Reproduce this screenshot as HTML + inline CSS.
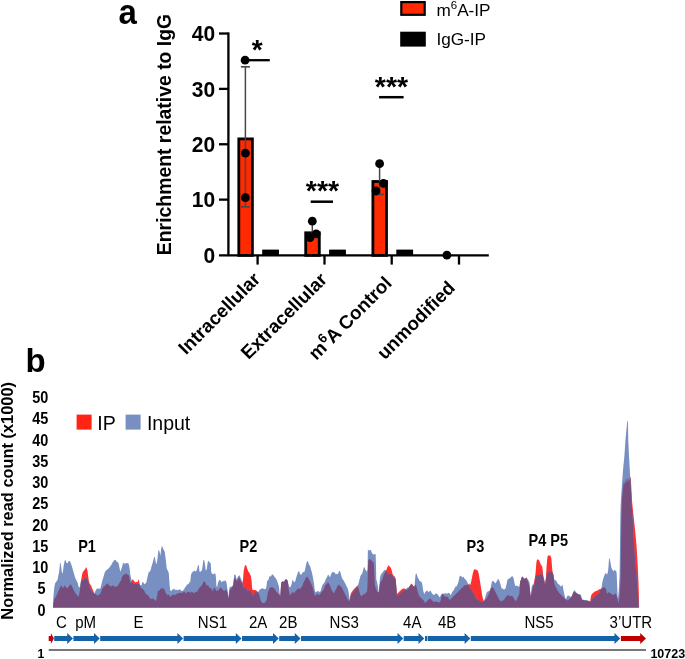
<!DOCTYPE html>
<html><head><meta charset="utf-8"><style>
html,body{margin:0;padding:0;background:#fff;}
body{width:685px;height:659px;overflow:hidden;}
svg{display:block;font-family:"Liberation Sans", sans-serif;will-change:transform;filter:blur(0.4px);}
</style></head><body>
<svg width="685" height="659" viewBox="0 0 685 659">
<text transform="translate(118.60,24.30) scale(1.0,1.04)" font-size="33" font-weight="bold">a</text>
<text transform="translate(171.0,253.8) rotate(-90)" font-size="19.4" font-weight="bold" x="-1.4">Enrichment relative to IgG</text>
<line x1="228.4" y1="32.42000000000001" x2="228.4" y2="256.1" stroke="#000" stroke-width="2.3"/>
<line x1="219" y1="255.4" x2="488.8" y2="255.4" stroke="#000" stroke-width="2.3"/>
<text transform="translate(215.2,262.70) scale(1,1.05)" font-size="21" font-weight="bold" text-anchor="end">0</text>
<line x1="219" y1="199.63" x2="228.4" y2="199.63" stroke="#000" stroke-width="2.3"/>
<text transform="translate(215.2,207.33) scale(1,1.05)" font-size="21" font-weight="bold" text-anchor="end">10</text>
<line x1="219" y1="144.26" x2="228.4" y2="144.26" stroke="#000" stroke-width="2.3"/>
<text transform="translate(215.2,151.96) scale(1,1.05)" font-size="21" font-weight="bold" text-anchor="end">20</text>
<line x1="219" y1="88.89" x2="228.4" y2="88.89" stroke="#000" stroke-width="2.3"/>
<text transform="translate(215.2,96.59) scale(1,1.05)" font-size="21" font-weight="bold" text-anchor="end">30</text>
<line x1="219" y1="33.52" x2="228.4" y2="33.52" stroke="#000" stroke-width="2.3"/>
<text transform="translate(215.2,41.22) scale(1,1.05)" font-size="21" font-weight="bold" text-anchor="end">40</text>
<line x1="257.6" y1="255.4" x2="257.6" y2="264.6" stroke="#000" stroke-width="2.3"/>
<line x1="324.5" y1="255.4" x2="324.5" y2="264.6" stroke="#000" stroke-width="2.3"/>
<line x1="391.7" y1="255.4" x2="391.7" y2="264.6" stroke="#000" stroke-width="2.3"/>
<line x1="459.0" y1="255.4" x2="459.0" y2="264.6" stroke="#000" stroke-width="2.3"/>
<rect x="238.80" y="138.90" width="13.60" height="116.50" fill="#ff2a00" stroke="#000" stroke-width="2.8"/>
<rect x="305.70" y="232.80" width="13.60" height="22.60" fill="#ff2a00" stroke="#000" stroke-width="2.8"/>
<rect x="372.90" y="181.50" width="13.60" height="73.90" fill="#ff2a00" stroke="#000" stroke-width="2.8"/>
<rect x="262.20" y="249.6" width="16.8" height="5.8" fill="#000"/>
<rect x="329.10" y="249.6" width="16.8" height="5.8" fill="#000"/>
<rect x="396.30" y="249.6" width="16.8" height="5.8" fill="#000"/>
<line x1="245.4" y1="66.8" x2="245.4" y2="206.8" stroke="#484848" stroke-width="1.5"/>
<line x1="240.9" y1="66.8" x2="249.9" y2="66.8" stroke="#484848" stroke-width="1.6"/>
<line x1="240.9" y1="206.8" x2="249.9" y2="206.8" stroke="#484848" stroke-width="1.6"/>
<line x1="312.3" y1="221" x2="312.3" y2="240" stroke="#484848" stroke-width="1.5"/>
<line x1="379.6" y1="164" x2="379.6" y2="194.4" stroke="#484848" stroke-width="1.5"/>
<line x1="375.5" y1="194.4" x2="384" y2="194.4" stroke="#484848" stroke-width="1.6"/>
<circle cx="245.1" cy="60.2" r="4.4" fill="#000"/>
<circle cx="245.4" cy="153.2" r="4.4" fill="#000"/>
<circle cx="245.4" cy="197.7" r="4.4" fill="#000"/>
<circle cx="312.3" cy="221.2" r="4.4" fill="#000"/>
<circle cx="316.2" cy="233.8" r="4.4" fill="#000"/>
<circle cx="310" cy="237.6" r="4.4" fill="#000"/>
<circle cx="379.6" cy="163.7" r="4.4" fill="#000"/>
<circle cx="383.5" cy="183.4" r="4.4" fill="#000"/>
<circle cx="376" cy="191" r="4.4" fill="#000"/>
<circle cx="446.9" cy="255.2" r="4.4" fill="#000"/>
<line x1="245" y1="60.2" x2="269.8" y2="60.2" stroke="#000" stroke-width="2.3"/>
<text x="251.8" y="59.0" font-size="28" font-weight="bold">*</text>
<line x1="310.7" y1="201.7" x2="333" y2="201.7" stroke="#000" stroke-width="2.5"/>
<text x="305.8" y="200.3" font-size="28.5" font-weight="bold">***</text>
<line x1="379.1" y1="97.2" x2="403.6" y2="97.2" stroke="#000" stroke-width="2.5"/>
<text x="374.8" y="95.5" font-size="28.5" font-weight="bold">***</text>
<rect x="401.3" y="2.1" width="23.400000000000002" height="12.7" fill="#ff2a00" stroke="#000" stroke-width="2.2"/>
<rect x="400.2" y="31.7" width="25.6" height="14.9" fill="#000"/>
<text x="436.4" y="15.8" font-size="17.2">m<tspan font-size="11.5" dy="-6.5">6</tspan><tspan dy="6.5">A-IP</tspan></text>
<text x="436.4" y="45.2" font-size="17.2">IgG-IP</text>
<text transform="translate(261.40,280.30) rotate(-45)" font-size="18.8" font-weight="bold" text-anchor="end">Intracellular</text>
<text transform="translate(328.30,280.60) rotate(-45)" font-size="18.8" font-weight="bold" text-anchor="end">Extracellular</text>
<text transform="translate(392.90,284.20) rotate(-45)" font-size="18.8" font-weight="bold" text-anchor="end">m<tspan font-size="13.2" dy="-7.2">6</tspan><tspan dy="7.2" dx="-0.4">A Control</tspan></text>
<text transform="translate(456.20,289.00) rotate(-45)" font-size="18.8" font-weight="bold" text-anchor="end">unmodified</text>
<text x="25.6" y="372.0" font-size="33" font-weight="bold">b</text>
<text transform="translate(13.0,618.6) rotate(-90)" font-size="16.4" font-weight="bold" x="-1.1">Normalized read count (x1000)</text>
<text transform="translate(48.30,403.10) scale(0.97,1.1)" font-size="14.9" font-weight="bold" text-anchor="end">50</text>
<text transform="translate(48.30,424.36) scale(0.97,1.1)" font-size="14.9" font-weight="bold" text-anchor="end">45</text>
<text transform="translate(48.30,445.62) scale(0.97,1.1)" font-size="14.9" font-weight="bold" text-anchor="end">40</text>
<text transform="translate(48.30,466.88) scale(0.97,1.1)" font-size="14.9" font-weight="bold" text-anchor="end">35</text>
<text transform="translate(48.30,488.14) scale(0.97,1.1)" font-size="14.9" font-weight="bold" text-anchor="end">30</text>
<text transform="translate(48.30,509.40) scale(0.97,1.1)" font-size="14.9" font-weight="bold" text-anchor="end">25</text>
<text transform="translate(48.30,530.66) scale(0.97,1.1)" font-size="14.9" font-weight="bold" text-anchor="end">20</text>
<text transform="translate(48.30,551.92) scale(0.97,1.1)" font-size="14.9" font-weight="bold" text-anchor="end">15</text>
<text transform="translate(48.30,573.18) scale(0.97,1.1)" font-size="14.9" font-weight="bold" text-anchor="end">10</text>
<text transform="translate(41.50,594.44) scale(0.97,1.1)" font-size="14.9" font-weight="bold" text-anchor="middle">5</text>
<text transform="translate(41.50,615.70) scale(0.97,1.1)" font-size="14.9" font-weight="bold" text-anchor="middle">0</text>
<polygon points="52.90,607.40 52.90,607.40 53.25,605.29 53.60,602.84 53.95,600.97 54.30,599.57 54.65,598.33 55.00,597.86 55.35,597.39 55.70,596.93 56.05,596.32 56.40,595.62 56.75,594.92 57.10,594.22 57.45,593.29 57.80,592.35 58.15,591.42 58.50,590.59 58.85,589.89 59.20,589.19 59.55,588.49 59.90,587.79 60.25,587.09 60.60,586.39 60.95,585.69 61.30,585.11 61.65,585.81 62.00,586.51 62.35,587.21 62.70,587.91 63.05,588.17 63.40,587.47 63.75,586.77 64.10,586.07 64.45,585.37 64.80,585.43 65.15,586.13 65.50,586.78 65.85,587.13 66.20,587.48 66.55,587.83 66.90,588.18 67.25,588.25 67.60,587.90 67.95,587.55 68.30,587.08 68.65,586.62 69.00,586.15 69.35,585.68 69.70,585.22 70.05,584.75 70.40,584.28 70.75,584.51 71.10,584.86 71.45,585.38 71.80,586.08 72.15,586.78 72.50,587.48 72.85,588.18 73.20,588.88 73.55,589.58 73.90,590.28 74.25,590.98 74.60,591.68 74.95,592.38 75.30,593.08 75.65,593.59 76.00,593.94 76.35,594.29 76.70,594.64 77.05,594.99 77.40,595.61 77.75,596.31 78.10,596.60 78.45,596.25 78.80,595.89 79.15,594.14 79.50,592.39 79.85,590.42 80.20,588.32 80.55,585.98 80.90,582.83 81.25,579.68 81.60,577.42 81.95,575.32 82.30,573.71 82.65,572.66 83.00,571.67 83.35,571.32 83.70,570.97 84.05,570.62 84.40,570.15 84.75,569.57 85.10,568.98 85.45,568.40 85.80,567.87 86.15,567.34 86.50,567.58 86.85,568.45 87.20,569.52 87.55,571.62 87.90,573.72 88.25,576.36 88.60,579.16 88.95,581.28 89.30,582.33 89.65,583.38 90.00,583.91 90.35,584.43 90.70,584.96 91.05,585.48 91.40,586.13 91.75,587.18 92.10,588.23 92.45,588.98 92.80,589.68 93.15,590.54 93.50,591.59 93.85,592.60 94.20,593.13 94.55,593.65 94.90,593.94 95.25,594.11 95.60,594.30 95.95,594.54 96.30,594.77 96.65,595.00 97.00,595.15 97.35,595.27 97.70,595.39 98.05,595.45 98.40,595.23 98.75,595.01 99.10,594.79 99.45,594.58 99.80,594.36 100.15,593.93 100.50,593.23 100.85,592.52 101.20,591.47 101.55,590.42 101.90,589.60 102.25,588.90 102.60,588.26 102.95,587.79 103.30,587.33 103.65,586.86 104.00,586.56 104.35,586.32 104.70,586.09 105.05,585.83 105.40,585.36 105.75,584.90 106.10,584.43 106.45,584.09 106.80,583.86 107.15,583.62 107.50,583.39 107.85,583.83 108.20,584.30 108.55,584.76 108.90,585.14 109.25,585.37 109.60,585.61 109.95,585.84 110.30,586.07 110.65,586.31 111.00,586.54 111.35,586.61 111.70,586.14 112.05,585.68 112.40,585.21 112.75,585.20 113.10,585.44 113.45,585.67 113.80,585.90 114.15,586.14 114.50,586.37 114.85,586.60 115.20,586.72 115.55,586.72 115.90,586.72 116.25,586.72 116.60,586.50 116.95,586.27 117.30,586.04 117.65,585.72 118.00,585.26 118.35,584.79 118.70,584.32 119.05,583.68 119.40,582.98 119.75,582.28 120.10,581.62 120.45,581.16 120.80,580.69 121.15,580.22 121.50,579.18 121.85,577.78 122.20,576.60 122.55,576.13 122.90,575.66 123.25,575.20 123.60,574.88 123.95,574.65 124.30,574.41 124.65,574.18 125.00,573.95 125.35,573.71 125.70,573.48 126.05,573.48 126.40,573.71 126.75,573.95 127.10,574.18 127.45,574.41 127.80,574.65 128.15,574.88 128.50,575.15 128.85,575.50 129.20,575.85 129.55,579.21 129.90,581.11 130.25,582.51 130.60,583.12 130.95,582.42 131.30,581.72 131.65,581.02 132.00,580.32 132.35,579.83 132.70,579.48 133.05,579.36 133.40,580.06 133.75,580.76 134.10,581.17 134.45,581.52 134.80,581.87 135.15,582.22 135.50,582.52 135.85,582.17 136.20,581.82 136.55,581.95 136.90,582.30 137.25,582.34 137.60,581.64 137.95,580.94 138.30,580.08 138.65,579.22 139.00,580.72 139.35,582.30 139.70,584.05 140.05,585.80 140.40,586.72 140.75,587.59 141.10,588.04 141.45,588.15 141.80,588.27 142.15,588.39 142.50,588.74 142.85,589.09 143.20,589.44 143.55,589.79 143.90,590.21 144.25,590.91 144.60,591.61 144.95,592.31 145.30,593.01 145.65,593.55 146.00,593.90 146.35,594.25 146.70,594.60 147.05,594.95 147.40,595.07 147.75,595.07 148.10,595.23 148.45,595.79 148.80,596.35 149.15,596.90 149.50,597.46 149.85,598.02 150.20,598.55 150.55,599.08 150.90,599.60 151.25,599.34 151.60,598.81 151.95,598.29 152.30,598.42 152.65,598.59 153.00,598.77 153.35,598.94 153.70,599.12 154.05,599.35 154.40,599.70 154.75,600.05 155.10,600.40 155.45,600.75 155.80,601.10 156.15,600.28 156.50,598.88 156.85,597.48 157.20,595.49 157.55,593.39 157.90,591.34 158.25,591.11 158.60,590.88 158.95,590.64 159.30,590.41 159.65,589.99 160.00,589.52 160.35,589.06 160.70,588.59 161.05,588.39 161.40,588.39 161.75,588.39 162.10,588.39 162.45,588.39 162.80,588.39 163.15,588.39 163.50,588.39 163.85,588.48 164.20,589.18 164.55,589.88 164.90,590.69 165.25,591.74 165.60,592.79 165.95,593.49 166.30,593.84 166.65,594.19 167.00,594.54 167.35,594.89 167.70,595.24 168.05,595.00 168.40,594.65 168.75,594.33 169.10,595.03 169.45,595.73 169.80,596.36 170.15,596.71 170.50,597.06 170.85,596.99 171.20,596.29 171.55,595.59 171.90,595.16 172.25,594.93 172.60,594.69 172.95,594.46 173.30,594.39 173.65,594.63 174.00,594.86 174.35,595.09 174.70,595.27 175.05,595.03 175.40,594.80 175.75,594.57 176.10,594.33 176.45,594.10 176.80,593.87 177.15,593.63 177.50,593.40 177.85,593.32 178.20,593.32 178.55,593.32 178.90,593.32 179.25,593.22 179.60,592.99 179.95,592.75 180.30,592.52 180.65,592.42 181.00,592.77 181.35,593.12 181.70,593.23 182.05,593.00 182.40,592.76 182.75,592.53 183.10,592.27 183.45,591.92 183.80,591.57 184.15,591.48 184.50,591.83 184.85,592.18 185.20,592.53 185.55,592.88 185.90,593.23 186.25,593.07 186.60,592.72 186.95,592.37 187.30,592.02 187.65,591.67 188.00,591.38 188.35,591.73 188.70,592.08 189.05,592.24 189.40,591.89 189.75,591.54 190.10,594.01 190.45,592.96 190.80,591.91 191.15,591.51 191.50,591.86 191.85,592.21 192.20,592.34 192.55,592.34 192.90,592.34 193.25,592.63 193.60,592.98 193.95,593.32 194.30,592.97 194.65,592.62 195.00,592.27 195.35,591.92 195.70,591.57 196.05,591.48 196.40,591.83 196.75,592.18 197.10,591.94 197.45,591.24 197.80,590.54 198.15,589.84 198.50,589.14 198.85,588.44 199.20,588.07 199.55,587.72 199.90,587.37 200.25,587.02 200.60,586.67 200.95,586.32 201.30,585.97 201.65,585.62 202.00,585.10 202.35,584.40 202.70,583.70 203.05,583.00 203.40,582.30 203.75,581.60 204.10,581.49 204.45,581.49 204.80,581.50 205.15,582.20 205.50,582.90 205.85,583.67 206.20,584.72 206.55,585.77 206.90,586.15 207.25,585.45 207.60,584.75 207.95,584.84 208.30,585.54 208.65,586.24 209.00,586.94 209.35,587.64 209.70,588.34 210.05,588.07 210.40,587.72 210.75,587.49 211.10,588.19 211.45,588.89 211.80,589.59 212.15,590.29 212.50,590.99 212.85,590.85 213.20,589.80 213.55,588.75 213.90,588.16 214.25,587.81 214.60,587.46 214.95,588.00 215.30,588.70 215.65,589.40 216.00,590.10 216.35,590.80 216.70,591.28 217.05,590.93 217.40,590.58 217.75,590.36 218.10,590.36 218.45,590.36 218.80,589.96 219.15,589.26 219.50,588.56 219.85,588.13 220.20,587.78 220.55,587.43 220.90,587.73 221.25,588.08 221.60,588.43 221.95,588.78 222.30,589.13 222.65,589.48 223.00,589.83 223.35,590.18 223.70,590.53 224.05,590.88 224.40,591.23 224.75,590.73 225.10,589.99 225.45,589.76 225.80,589.53 226.15,589.29 226.50,589.88 226.85,590.82 227.20,591.75 227.55,592.93 227.90,595.73 228.25,598.53 228.60,597.41 228.95,594.96 229.30,592.89 229.65,591.49 230.00,590.09 230.35,589.60 230.70,589.14 231.05,588.67 231.40,588.20 231.75,587.74 232.10,587.27 232.45,586.80 232.80,586.14 233.15,585.44 233.50,583.68 233.85,580.53 234.20,577.57 234.55,578.27 234.90,578.97 235.25,578.97 235.60,578.62 235.95,578.77 236.30,580.17 236.65,581.57 237.00,581.08 237.35,580.38 237.70,579.56 238.05,578.63 238.40,577.70 238.75,576.76 239.10,577.36 239.45,578.06 239.80,578.76 240.15,579.46 240.50,580.16 240.85,580.86 241.20,581.56 241.55,582.26 241.90,582.96 242.25,582.83 242.60,581.43 242.95,580.00 243.30,575.80 243.65,571.60 244.00,569.15 244.35,567.75 244.70,566.35 245.05,565.02 245.40,565.14 245.75,565.26 246.10,565.37 246.45,566.01 246.80,567.23 247.15,568.44 247.50,569.37 247.85,570.30 248.20,571.24 248.55,571.87 248.90,572.22 249.25,572.62 249.60,573.32 249.95,574.02 250.30,574.72 250.65,575.42 251.00,576.73 251.35,579.18 251.70,581.63 252.05,587.81 252.40,589.40 252.75,589.64 253.10,589.87 253.45,590.06 253.80,590.06 254.15,590.06 254.50,590.06 254.85,590.06 255.20,590.11 255.55,590.23 255.90,590.34 256.25,590.46 256.60,590.77 256.95,591.12 257.30,591.47 257.65,591.84 258.00,592.24 258.35,592.65 258.70,593.17 259.05,594.30 259.40,595.42 259.75,596.55 260.10,597.93 260.45,599.35 260.80,600.78 261.15,601.63 261.50,601.90 261.85,602.18 262.20,602.45 262.55,602.73 262.90,603.00 263.25,603.00 263.60,603.00 263.95,603.00 264.30,603.00 264.65,603.00 265.00,602.59 265.35,602.06 265.70,601.52 266.05,600.99 266.40,600.46 266.75,598.78 267.10,596.72 267.45,594.67 267.80,592.81 268.15,591.86 268.50,590.91 268.85,589.96 269.20,589.01 269.55,588.18 269.90,587.96 270.25,587.73 270.60,587.50 270.95,587.27 271.30,587.04 271.65,587.05 272.00,587.17 272.35,587.28 272.70,587.40 273.05,587.52 273.40,587.79 273.75,588.14 274.10,588.48 274.45,588.83 274.80,589.18 275.15,589.68 275.50,590.38 275.85,591.08 276.20,591.56 276.55,591.91 276.90,592.26 277.25,592.61 277.60,592.96 277.95,593.31 278.30,593.66 278.65,594.01 279.00,594.38 279.35,594.82 279.70,595.25 280.05,595.75 280.40,596.25 280.75,589.76 281.10,582.76 281.45,582.22 281.80,581.95 282.15,581.68 282.50,581.49 282.85,581.49 283.20,581.49 283.55,581.49 283.90,581.46 284.25,581.11 284.60,580.76 284.95,580.37 285.30,579.85 285.65,579.32 286.00,579.10 286.35,579.27 286.70,579.45 287.05,579.95 287.40,580.65 287.75,581.35 288.10,583.73 288.45,586.80 288.80,590.30 289.15,592.08 289.50,593.83 289.85,595.24 290.20,594.89 290.55,594.54 290.90,594.19 291.25,593.84 291.60,593.49 291.95,592.86 292.30,591.99 292.65,591.49 293.00,591.99 293.35,592.44 293.70,592.79 294.05,593.14 294.40,592.99 294.75,592.29 295.10,591.59 295.45,591.12 295.80,590.77 296.15,590.42 296.50,590.07 296.85,589.72 297.20,589.37 297.55,589.02 297.90,588.67 298.25,588.39 298.60,588.39 298.95,588.39 299.30,588.53 299.65,588.88 300.00,589.23 300.35,588.97 300.70,588.27 301.05,587.57 301.40,587.14 301.75,586.79 302.10,586.44 302.45,585.43 302.80,584.38 303.15,583.37 303.50,582.67 303.85,581.97 304.20,581.27 304.55,580.57 304.90,579.87 305.25,579.17 305.60,578.47 305.95,577.77 306.30,577.31 306.65,576.96 307.00,576.61 307.35,576.86 307.70,577.21 308.05,577.57 308.40,578.27 308.75,578.97 309.10,579.67 309.45,580.37 309.80,581.07 310.15,581.77 310.50,582.47 310.85,583.17 311.20,583.87 311.55,584.57 311.90,585.27 312.25,586.24 312.60,587.29 312.95,588.34 313.30,589.72 313.65,591.12 314.00,592.52 314.35,593.92 314.70,595.32 315.05,596.17 315.40,595.82 315.75,595.47 316.10,594.95 316.45,594.25 316.80,593.55 317.15,593.56 317.50,593.91 317.85,594.26 318.20,594.61 318.55,594.96 318.90,595.28 319.25,594.93 319.60,594.58 319.95,594.23 320.30,593.88 320.65,593.53 321.00,593.04 321.35,592.34 321.70,591.64 322.05,591.15 322.40,590.80 322.75,590.45 323.10,590.10 323.45,589.75 323.80,589.40 324.15,588.27 324.50,587.10 324.85,585.93 325.20,585.23 325.55,584.88 325.90,584.53 326.25,584.18 326.60,583.83 326.95,583.48 327.30,583.13 327.65,582.78 328.00,582.52 328.35,582.87 328.70,583.22 329.05,583.67 329.40,584.37 329.75,585.07 330.10,585.94 330.45,586.99 330.80,588.04 331.15,588.86 331.50,589.56 331.85,590.26 332.20,590.96 332.55,591.66 332.90,592.35 333.25,592.70 333.60,593.05 333.95,593.17 334.30,592.47 334.65,591.77 335.00,591.07 335.35,590.37 335.70,589.67 336.05,588.97 336.40,588.27 336.75,587.57 337.10,586.87 337.45,586.17 337.80,585.47 338.15,585.10 338.50,584.75 338.85,584.49 339.20,584.84 339.55,585.19 339.90,585.54 340.25,585.89 340.60,586.24 340.95,586.59 341.30,586.94 341.65,587.29 342.00,587.88 342.35,588.58 342.70,589.28 343.05,589.98 343.40,590.68 343.75,591.38 344.10,592.08 344.45,592.78 344.80,593.48 345.15,594.18 345.50,594.88 345.85,595.58 346.20,596.28 346.55,596.98 346.90,597.68 347.25,598.38 347.60,599.08 347.95,599.78 348.30,600.48 348.65,601.18 349.00,600.88 349.35,600.53 349.70,599.93 350.05,597.66 350.40,595.38 350.75,593.65 351.10,593.13 351.45,592.60 351.80,592.08 352.15,591.55 352.50,591.03 352.85,590.50 353.20,589.98 353.55,589.45 353.90,589.08 354.25,588.73 354.60,588.38 354.95,588.03 355.30,587.68 355.65,587.33 356.00,586.98 356.35,586.63 356.70,586.21 357.05,585.68 357.40,585.16 357.75,585.66 358.10,586.89 358.45,588.11 358.80,589.47 359.15,590.87 359.50,592.27 359.85,593.34 360.20,594.39 360.55,595.34 360.90,595.69 361.25,596.04 361.60,596.17 361.95,595.82 362.30,595.47 362.65,595.12 363.00,594.77 363.35,594.42 363.70,594.31 364.05,594.31 364.40,594.31 364.75,594.01 365.10,593.66 365.45,593.31 365.80,592.96 366.15,592.61 366.50,592.18 366.85,591.48 367.20,590.78 367.55,584.21 367.90,569.21 368.25,560.59 368.60,560.15 368.95,559.73 369.30,559.38 369.65,559.03 370.00,558.93 370.35,559.28 370.70,559.63 371.05,559.98 371.40,560.33 371.75,560.68 372.10,561.03 372.45,561.38 372.80,561.73 373.15,562.08 373.50,562.43 373.85,563.42 374.20,570.42 374.55,577.42 374.90,584.42 375.25,586.92 375.60,587.62 375.95,588.32 376.30,589.33 376.65,590.38 377.00,591.38 377.35,591.73 377.70,592.08 378.05,592.34 378.40,592.34 378.75,592.34 379.10,590.94 379.45,587.79 379.80,584.64 380.15,583.02 380.50,582.32 380.85,581.62 381.20,581.21 381.55,580.86 381.90,580.51 382.25,579.46 382.60,578.41 382.95,577.36 383.30,576.31 383.65,575.26 384.00,574.34 384.35,573.64 384.70,572.94 385.05,572.24 385.40,571.54 385.75,570.84 386.10,570.14 386.45,569.44 386.80,568.74 387.15,567.88 387.50,567.00 387.85,566.17 388.20,565.82 388.55,565.47 388.90,565.36 389.25,565.88 389.60,566.41 389.95,566.85 390.30,567.20 390.65,567.55 391.00,568.35 391.35,569.40 391.70,570.45 392.05,571.78 392.40,573.18 392.75,574.58 393.10,574.93 393.45,575.28 393.80,575.63 394.15,575.98 394.50,576.33 394.85,576.81 395.20,577.51 395.55,578.21 395.90,581.06 396.25,585.73 396.60,590.40 396.95,594.24 397.30,593.80 397.65,593.36 398.00,593.01 398.35,592.66 398.70,592.31 399.05,591.96 399.40,591.61 399.75,591.26 400.10,590.91 400.45,590.56 400.80,590.21 401.15,589.86 401.50,589.51 401.85,589.27 402.20,589.09 402.55,588.92 402.90,588.74 403.25,588.57 403.60,588.39 403.95,588.39 404.30,588.39 404.65,588.46 405.00,588.81 405.35,589.16 405.70,589.51 406.05,589.86 406.40,590.21 406.75,590.17 407.10,589.82 407.45,589.47 407.80,589.12 408.15,588.77 408.50,588.42 408.85,587.75 409.20,587.05 409.55,586.35 409.90,585.65 410.25,584.95 410.60,584.35 410.95,584.00 411.30,583.65 411.65,583.62 412.00,583.97 412.35,584.32 412.70,584.90 413.05,585.60 413.40,586.30 413.75,586.42 414.10,586.42 414.45,586.42 414.80,585.72 415.15,585.02 415.50,584.58 415.85,585.28 416.20,585.98 416.55,586.94 416.90,588.34 417.25,589.74 417.60,591.14 417.95,592.54 418.30,593.94 418.65,594.82 419.00,595.52 419.35,596.22 419.70,596.60 420.05,596.95 420.40,597.30 420.75,597.65 421.10,598.00 421.45,598.35 421.80,598.70 422.15,599.05 422.50,599.40 422.85,599.75 423.20,600.10 423.55,600.45 423.90,600.80 424.25,601.15 424.60,602.04 424.95,603.04 425.30,602.89 425.65,602.54 426.00,602.19 426.35,601.84 426.70,601.49 427.05,601.14 427.40,600.79 427.75,600.44 428.10,600.09 428.45,599.74 428.80,599.39 429.15,599.04 429.50,598.69 429.85,598.34 430.20,598.52 430.55,598.87 430.90,599.22 431.25,599.57 431.60,599.92 431.95,600.27 432.30,600.62 432.65,600.97 433.00,601.32 433.35,601.67 433.70,602.02 434.05,602.11 434.40,601.94 434.75,601.76 435.10,601.59 435.45,601.41 435.80,601.24 436.15,601.51 436.50,601.86 436.85,602.19 437.20,602.02 437.55,601.84 437.90,601.75 438.25,601.92 438.60,602.10 438.95,602.27 439.30,602.45 439.65,602.62 440.00,602.17 440.35,601.30 440.70,600.42 441.05,598.60 441.40,596.50 441.75,594.40 442.10,594.31 442.45,594.31 442.80,594.36 443.15,594.71 443.50,595.06 443.85,595.41 444.20,595.76 444.55,596.11 444.90,596.46 445.25,596.81 445.60,597.16 445.95,597.03 446.30,596.68 446.65,596.33 447.00,596.59 447.35,596.94 447.70,597.29 448.05,597.64 448.40,597.99 448.75,598.42 449.10,599.12 449.45,599.82 449.80,600.08 450.15,599.73 450.50,599.38 450.85,599.03 451.20,598.68 451.55,598.33 451.90,597.98 452.25,597.63 452.60,597.28 452.95,596.93 453.30,596.58 453.65,596.23 454.00,595.88 454.35,595.53 454.70,595.18 455.05,594.83 455.40,594.48 455.75,594.13 456.10,593.78 456.45,593.43 456.80,593.08 457.15,592.73 457.50,592.38 457.85,592.03 458.20,591.68 458.55,591.33 458.90,590.98 459.25,590.63 459.60,590.28 459.95,589.93 460.30,589.58 460.65,589.23 461.00,588.88 461.35,588.53 461.70,588.18 462.05,587.83 462.40,587.48 462.75,587.13 463.10,586.78 463.45,586.43 463.80,586.08 464.15,585.73 464.50,585.43 464.85,585.43 465.20,585.43 465.55,585.32 465.90,584.97 466.25,584.62 466.60,584.63 466.95,584.98 467.30,585.33 467.65,585.19 468.00,584.84 468.35,584.49 468.70,584.14 469.05,583.79 469.40,583.53 469.75,584.64 470.10,585.13 470.45,584.08 470.80,583.03 471.15,581.66 471.50,579.91 471.85,578.16 472.20,576.41 472.55,574.66 472.90,572.91 473.25,571.74 473.60,570.69 473.95,569.65 474.30,569.48 474.65,569.30 475.00,569.20 475.35,569.37 475.70,569.55 476.05,569.72 476.40,569.90 476.75,570.07 477.10,570.25 477.45,570.42 477.80,570.60 478.15,571.68 478.50,573.08 478.85,574.48 479.20,576.53 479.55,578.63 479.90,580.73 480.25,582.83 480.60,584.93 480.95,587.13 481.30,589.58 481.65,592.03 482.00,594.15 482.35,595.90 482.70,597.65 483.05,598.94 483.40,599.99 483.75,601.04 484.10,600.92 484.45,600.57 484.80,600.22 485.15,599.87 485.50,599.52 485.85,599.17 486.20,598.82 486.55,598.47 486.90,597.99 487.25,597.29 487.60,596.59 487.95,595.89 488.30,595.19 488.65,594.49 489.00,593.52 489.35,592.47 489.70,591.42 490.05,590.70 490.40,590.00 490.75,589.30 491.10,588.60 491.45,587.90 491.80,587.41 492.15,587.41 492.50,587.41 492.85,587.57 493.20,587.92 493.55,588.27 493.90,588.86 494.25,589.56 494.60,590.26 494.95,590.96 495.30,591.66 495.65,592.36 496.00,593.06 496.35,593.76 496.70,594.46 497.05,595.16 497.40,595.86 497.75,596.56 498.10,597.26 498.45,597.96 498.80,598.66 499.15,599.36 499.50,600.06 499.85,600.49 500.20,600.84 500.55,601.19 500.90,601.21 501.25,601.21 501.60,601.19 501.95,601.02 502.30,600.84 502.65,600.67 503.00,600.49 503.35,600.32 503.70,600.06 504.05,599.71 504.40,599.36 504.75,598.77 505.10,598.07 505.45,597.37 505.80,596.97 506.15,596.62 506.50,596.27 506.85,595.92 507.20,595.57 507.55,595.30 507.90,595.30 508.25,595.30 508.60,595.37 508.95,595.54 509.30,595.72 509.65,595.89 510.00,596.07 510.35,596.24 510.70,596.15 511.05,595.97 511.40,595.80 511.75,595.95 512.10,596.13 512.45,596.33 512.80,596.68 513.15,597.03 513.50,597.48 513.85,598.18 514.20,598.88 514.55,599.58 514.90,600.28 515.25,600.98 515.60,600.98 515.95,600.63 516.30,600.28 516.65,599.63 517.00,598.93 517.35,598.23 517.70,597.53 518.05,596.83 518.40,596.13 518.75,595.43 519.10,594.73 519.45,591.90 519.80,585.90 520.15,582.05 520.50,581.09 520.85,580.13 521.20,579.16 521.55,578.20 521.90,577.24 522.25,576.75 522.60,577.10 522.95,577.45 523.30,577.80 523.65,578.15 524.00,578.50 524.35,578.72 524.70,578.63 525.05,578.55 525.40,578.46 525.75,578.37 526.10,578.28 526.45,578.38 526.80,579.08 527.15,579.78 527.50,580.48 527.85,581.18 528.20,582.20 528.55,583.36 528.90,584.53 529.25,585.70 529.60,587.17 529.95,590.67 530.30,594.17 530.65,597.16 531.00,595.53 531.35,593.90 531.70,592.26 532.05,590.63 532.40,589.13 532.75,587.73 533.10,586.33 533.45,584.93 533.80,583.53 534.15,581.66 534.50,579.79 534.85,577.93 535.20,576.06 535.55,572.99 535.90,568.44 536.25,563.89 536.60,560.94 536.95,560.24 537.30,559.54 537.65,559.20 538.00,559.43 538.35,559.66 538.70,559.90 539.05,560.13 539.40,560.95 539.75,561.88 540.10,562.81 540.45,563.75 540.80,564.55 541.15,565.02 541.50,565.48 541.85,565.95 542.20,566.42 542.55,569.11 542.90,572.61 543.25,575.48 543.60,576.94 543.95,578.40 544.30,579.86 544.65,581.28 545.00,582.68 545.35,584.08 545.70,580.81 546.05,574.86 546.40,568.91 546.75,564.17 547.10,560.23 547.45,556.85 547.80,556.10 548.15,555.39 548.50,555.39 548.85,555.39 549.20,555.39 549.55,555.39 549.90,555.39 550.25,555.39 550.60,556.26 550.95,557.13 551.30,558.01 551.65,562.05 552.00,566.25 552.35,570.45 552.70,572.07 553.05,573.47 553.40,574.87 553.75,577.83 554.10,580.98 554.45,584.13 554.80,585.18 555.15,585.88 555.50,586.58 555.85,587.28 556.20,587.98 556.55,588.68 556.90,589.38 557.25,590.04 557.60,590.56 557.95,591.09 558.30,591.61 558.65,592.14 559.00,592.66 559.35,593.15 559.70,593.50 560.05,593.85 560.40,594.20 560.75,594.55 561.10,594.90 561.45,595.25 561.80,595.60 562.15,595.95 562.50,596.30 562.85,596.65 563.20,597.00 563.55,597.35 563.90,597.70 564.25,598.05 564.60,598.40 564.95,598.75 565.30,599.10 565.65,599.45 566.00,599.62 566.35,599.80 566.70,599.97 567.05,600.15 567.40,600.32 567.75,600.50 568.10,600.20 568.45,599.88 568.80,599.55 569.15,599.23 569.50,598.90 569.85,598.58 570.20,598.25 570.55,597.93 570.90,597.61 571.25,597.28 571.60,596.58 571.95,595.65 572.30,594.72 572.65,593.78 573.00,592.85 573.35,591.92 573.70,591.40 574.05,591.63 574.40,591.86 574.75,592.10 575.10,592.33 575.45,592.56 575.80,592.80 576.15,593.03 576.50,593.26 576.85,593.50 577.20,593.73 577.55,593.96 577.90,594.20 578.25,594.37 578.60,594.54 578.95,594.70 579.30,594.87 579.65,595.04 580.00,595.20 580.35,595.99 580.70,596.78 581.05,597.56 581.40,598.35 581.75,599.14 582.10,599.93 582.45,600.04 582.80,600.11 583.15,600.18 583.50,600.25 583.85,600.32 584.20,600.39 584.55,600.46 584.90,600.53 585.25,600.60 585.60,600.67 585.95,600.74 586.30,600.81 586.65,600.88 587.00,600.95 587.35,601.02 587.70,601.09 588.05,601.16 588.40,601.23 588.75,601.30 589.10,601.37 589.45,601.44 589.80,601.51 590.15,601.18 590.50,599.08 590.85,596.98 591.20,595.13 591.55,594.66 591.90,594.20 592.25,593.73 592.60,593.26 592.95,592.92 593.30,592.66 593.65,592.40 594.00,592.13 594.35,591.87 594.70,591.61 595.05,591.41 595.40,591.27 595.75,591.13 596.10,590.99 596.45,590.85 596.80,590.71 597.15,590.57 597.50,590.43 597.85,590.20 598.20,589.97 598.55,589.74 598.90,589.50 599.25,589.33 599.60,589.24 599.95,589.15 600.30,589.07 600.65,588.98 601.00,588.89 601.35,588.75 601.70,588.52 602.05,588.29 602.40,588.05 602.75,587.82 603.10,587.68 603.45,587.56 603.80,587.45 604.15,587.33 604.50,587.32 604.85,587.67 605.20,588.02 605.55,588.37 605.90,588.72 606.25,590.04 606.60,591.79 606.95,593.54 607.30,593.83 607.65,593.37 608.00,592.90 608.35,592.43 608.70,592.04 609.05,592.28 609.40,592.51 609.75,592.74 610.10,592.98 610.45,593.21 610.80,593.44 611.15,593.68 611.50,593.91 611.85,594.14 612.20,594.32 612.55,594.49 612.90,594.67 613.25,594.84 613.60,595.02 613.95,595.19 614.30,594.76 614.65,594.30 615.00,593.83 615.35,593.36 615.70,593.35 616.05,594.05 616.40,594.75 616.75,595.69 617.10,597.06 617.45,598.42 617.80,599.91 618.15,601.70 618.50,603.49 618.85,601.86 619.20,598.86 619.55,595.86 619.90,592.86 620.25,584.92 620.60,575.00 620.95,551.37 621.30,524.75 621.65,507.62 622.00,499.67 622.35,495.58 622.70,491.50 623.05,487.65 623.40,485.20 623.75,482.75 624.10,481.40 624.45,482.80 624.80,484.20 625.15,483.95 625.50,481.50 625.85,479.05 626.20,479.00 626.55,480.75 626.90,482.50 627.25,481.50 627.60,479.40 627.95,477.30 628.30,478.50 628.65,480.25 629.00,482.00 629.35,480.60 629.70,479.20 630.05,477.92 630.40,477.35 630.75,476.78 631.10,482.88 631.45,489.81 631.80,496.38 632.15,502.47 632.50,505.75 632.85,509.03 633.20,512.31 633.55,515.59 633.90,518.87 634.25,522.13 634.60,525.40 634.95,528.67 635.30,532.13 635.65,536.10 636.00,540.07 636.35,544.03 636.70,548.00 637.05,554.05 637.40,560.09 637.75,566.14 638.10,573.50 638.45,581.50 638.80,592.00 639.15,607.40 639.50,607.40 639.50,607.40" fill="#ff3030"/>
<polygon points="52.90,607.40 52.90,607.40 53.25,599.05 53.60,594.13 53.95,590.63 54.30,587.63 54.65,585.53 55.00,583.43 55.35,582.93 55.70,582.46 56.05,581.99 56.40,581.53 56.75,581.06 57.10,580.59 57.45,580.13 57.80,578.60 58.15,576.85 58.50,575.10 58.85,573.35 59.20,571.51 59.55,568.01 59.90,564.51 60.25,563.06 60.60,562.62 60.95,564.79 61.30,567.77 61.65,570.57 62.00,573.37 62.35,573.46 62.70,572.41 63.05,570.80 63.40,568.00 63.75,565.20 64.10,563.38 64.45,561.63 64.80,560.55 65.15,560.03 65.50,559.79 65.85,561.02 66.20,562.24 66.55,562.69 66.90,562.93 67.25,563.16 67.60,563.21 67.95,562.51 68.30,561.81 68.65,561.39 69.00,561.04 69.35,560.92 69.70,561.09 70.05,561.30 70.40,562.18 70.75,563.05 71.10,564.04 71.45,565.09 71.80,566.14 72.15,567.19 72.50,568.24 72.85,569.61 73.20,571.01 73.55,572.23 73.90,573.28 74.25,574.37 74.60,575.77 74.95,577.17 75.30,578.05 75.65,578.75 76.00,579.45 76.35,580.15 76.70,580.85 77.05,581.55 77.40,582.25 77.75,583.36 78.10,584.76 78.45,586.02 78.80,586.72 79.15,587.42 79.50,587.27 79.85,586.92 80.20,585.67 80.55,583.22 80.90,580.86 81.25,580.51 81.60,580.16 81.95,579.93 82.30,579.75 82.65,579.67 83.00,579.85 83.35,580.02 83.70,579.63 84.05,579.16 84.40,578.69 84.75,578.26 85.10,577.91 85.45,577.56 85.80,577.75 86.15,577.99 86.50,578.22 86.85,578.54 87.20,579.00 87.55,579.47 87.90,579.94 88.25,581.12 88.60,582.52 88.95,583.92 89.30,585.32 89.65,586.72 90.00,587.65 90.35,588.59 90.70,589.52 91.05,590.26 91.40,590.72 91.75,591.19 92.10,591.66 92.45,592.02 92.80,592.37 93.15,592.72 93.50,593.03 93.85,593.20 94.20,593.38 94.55,592.78 94.90,592.08 95.25,591.38 95.60,590.68 95.95,590.00 96.30,589.47 96.65,588.95 97.00,588.68 97.35,588.50 97.70,588.39 98.05,588.39 98.40,588.39 98.75,588.39 99.10,588.58 99.45,588.83 99.80,589.08 100.15,588.77 100.50,587.72 100.85,586.66 101.20,585.26 101.55,583.86 101.90,582.46 102.25,581.06 102.60,579.72 102.95,578.56 103.30,577.39 103.65,576.22 104.00,575.06 104.35,573.89 104.70,572.72 105.05,571.65 105.40,571.30 105.75,570.95 106.10,570.60 106.45,570.25 106.80,569.90 107.15,569.55 107.50,569.20 107.85,568.97 108.20,568.73 108.55,568.50 108.90,568.18 109.25,567.71 109.60,567.24 109.95,566.78 110.30,566.31 110.65,565.84 111.00,565.38 111.35,564.85 111.70,564.15 112.05,563.45 112.40,562.75 112.75,562.21 113.10,561.74 113.45,561.27 113.80,560.82 114.15,560.47 114.50,560.12 114.85,559.77 115.20,559.77 115.55,560.12 115.90,560.47 116.25,560.82 116.60,561.49 116.95,562.19 117.30,562.32 117.65,561.97 118.00,561.84 118.35,562.89 118.70,563.94 119.05,565.53 119.40,567.28 119.75,568.89 120.10,570.29 120.45,571.69 120.80,570.65 121.15,569.60 121.50,568.55 121.85,567.50 122.20,566.37 122.55,564.97 122.90,563.57 123.25,563.05 123.60,562.70 123.95,562.83 124.30,563.53 124.65,564.16 125.00,563.81 125.35,563.46 125.70,563.23 126.05,563.05 126.40,562.98 126.75,563.16 127.10,563.33 127.45,563.19 127.80,563.01 128.15,563.21 128.50,563.73 128.85,564.44 129.20,566.19 129.55,567.94 129.90,570.76 130.25,573.91 130.60,576.40 130.95,577.80 131.30,579.20 131.65,580.60 132.00,582.00 132.35,582.76 132.70,583.11 133.05,583.41 133.40,583.52 133.75,583.64 134.10,583.76 134.45,583.87 134.80,583.99 135.15,584.11 135.50,584.21 135.85,584.09 136.20,583.97 136.55,583.86 136.90,583.74 137.25,583.62 137.60,583.51 137.95,583.39 138.30,583.54 138.65,583.72 139.00,583.98 139.35,584.33 139.70,584.66 140.05,584.83 140.40,585.01 140.75,585.32 141.10,585.67 141.45,585.36 141.80,583.96 142.15,582.56 142.50,582.20 142.85,581.85 143.20,582.13 143.55,582.83 143.90,583.46 144.25,583.81 144.60,584.16 144.95,583.92 145.30,583.57 145.65,583.22 146.00,582.87 146.35,582.43 146.70,580.68 147.05,578.93 147.40,577.42 147.75,576.02 148.10,574.62 148.45,573.22 148.80,571.82 149.15,571.68 149.50,571.66 149.85,571.64 150.20,571.03 150.55,569.98 150.90,568.93 151.25,567.61 151.60,566.21 151.95,564.81 152.30,563.74 152.65,562.69 153.00,561.60 153.35,560.20 153.70,558.80 154.05,557.62 154.40,556.97 154.75,556.45 155.10,558.70 155.45,560.88 155.80,562.28 156.15,563.68 156.50,564.28 156.85,562.53 157.20,560.78 157.55,558.26 157.90,554.76 158.25,551.26 158.60,550.15 158.95,550.50 159.30,550.85 159.65,552.32 160.00,554.07 160.35,555.82 160.70,553.09 161.05,550.29 161.40,547.75 161.75,546.50 162.10,545.71 162.45,546.80 162.80,547.89 163.15,548.62 163.50,549.32 163.85,550.02 164.20,550.72 164.55,551.42 164.90,552.76 165.25,555.56 165.60,558.36 165.95,561.33 166.30,564.48 166.65,567.63 167.00,569.14 167.35,569.84 167.70,570.54 168.05,571.24 168.40,571.94 168.75,572.79 169.10,577.69 169.45,582.59 169.80,587.03 170.15,589.83 170.50,590.65 170.85,591.00 171.20,591.35 171.55,590.66 171.90,589.96 172.25,589.38 172.60,589.38 172.95,589.38 173.30,589.25 173.65,588.90 174.00,588.55 174.35,588.77 174.70,589.47 175.05,590.17 175.40,590.11 175.75,589.76 176.10,589.41 176.45,589.69 176.80,590.04 177.15,590.35 177.50,590.18 177.85,590.00 178.20,589.87 178.55,589.87 178.90,589.87 179.25,589.79 179.60,589.62 179.95,589.44 180.30,589.60 180.65,589.95 181.00,590.30 181.35,590.65 181.70,591.00 182.05,591.35 182.40,591.00 182.75,590.65 183.10,590.30 183.45,589.95 183.80,589.60 184.15,589.13 184.50,588.43 184.85,587.73 185.20,587.22 185.55,586.87 185.90,586.52 186.25,585.91 186.60,585.21 186.95,584.51 187.30,584.45 187.65,584.45 188.00,584.42 188.35,584.07 188.70,583.72 189.05,583.18 189.40,582.13 189.75,581.08 190.10,583.45 190.45,579.95 190.80,576.45 191.15,574.26 191.50,573.56 191.85,572.86 192.20,572.39 192.55,572.04 192.90,571.69 193.25,571.43 193.60,571.20 193.95,570.97 194.30,570.73 194.65,570.78 195.00,571.02 195.35,571.25 195.70,571.48 196.05,571.36 196.40,570.66 196.75,569.96 197.10,568.87 197.45,567.47 197.80,566.07 198.15,565.45 198.50,565.10 198.85,564.75 199.20,569.26 199.55,571.63 199.90,571.63 200.25,571.63 200.60,571.46 200.95,571.23 201.30,571.00 201.65,570.76 202.00,569.65 202.35,567.55 202.70,565.45 203.05,562.43 203.40,559.84 203.75,560.01 204.10,560.19 204.45,561.25 204.80,563.50 205.15,565.92 205.50,568.55 205.85,570.57 206.20,570.22 206.55,569.87 206.90,568.58 207.25,565.78 207.60,562.98 207.95,561.57 208.30,561.22 208.65,560.87 209.00,561.30 209.35,562.00 209.70,562.70 210.05,562.75 210.40,562.75 210.75,563.55 211.10,570.55 211.45,572.86 211.80,573.21 212.15,573.56 212.50,573.91 212.85,574.26 213.20,574.56 213.55,574.21 213.90,573.86 214.25,573.56 214.60,573.38 214.95,573.21 215.30,573.65 215.65,574.90 216.00,578.54 216.35,584.95 216.70,586.81 217.05,587.31 217.40,586.01 217.75,584.26 218.10,582.51 218.45,581.79 218.80,581.09 219.15,580.45 219.50,580.10 219.85,579.75 220.20,579.76 220.55,580.46 220.90,581.16 221.25,581.67 221.60,582.02 221.95,582.37 222.30,581.98 222.65,581.28 223.00,580.58 223.35,580.82 223.70,581.17 224.05,581.45 224.40,580.93 224.75,580.41 225.10,580.14 225.45,580.49 225.80,580.84 226.15,581.82 226.50,582.87 226.85,584.83 227.20,587.63 227.55,590.56 227.90,594.41 228.25,598.26 228.60,595.85 228.95,591.30 229.30,588.14 229.65,587.44 230.00,586.74 230.35,586.72 230.70,586.72 231.05,586.72 231.40,586.63 231.75,586.39 232.10,586.16 232.45,585.93 232.80,585.31 233.15,584.61 233.50,582.54 233.85,578.69 234.20,575.02 234.55,574.67 234.90,574.32 235.25,574.67 235.60,575.37 235.95,576.36 236.30,578.11 236.65,579.86 237.00,579.10 237.35,578.05 237.70,577.30 238.05,576.83 238.40,576.37 238.75,575.90 239.10,575.54 239.45,575.19 239.80,575.61 240.15,576.66 240.50,577.65 240.85,578.35 241.20,579.05 241.55,580.30 241.90,581.70 242.25,583.24 242.60,584.99 242.95,586.72 243.30,587.19 243.65,587.66 244.00,588.12 244.35,588.19 244.70,587.72 245.05,587.25 245.40,586.79 245.75,587.32 246.10,588.02 246.45,588.88 246.80,589.93 247.15,590.87 247.50,590.64 247.85,590.41 248.20,590.17 248.55,590.15 248.90,590.32 249.25,590.50 249.60,590.67 249.95,590.85 250.30,590.89 250.65,590.89 251.00,590.89 251.35,591.12 251.70,592.52 252.05,593.92 252.40,594.77 252.75,595.47 253.10,595.63 253.45,594.93 253.80,594.23 254.15,593.76 254.50,593.30 254.85,592.83 255.20,592.46 255.55,592.23 255.90,592.00 256.25,591.76 256.60,591.93 256.95,592.16 257.30,592.39 257.65,592.47 258.00,592.12 258.35,591.77 258.70,591.26 259.05,590.74 259.40,590.21 259.75,589.69 260.10,589.20 260.45,589.05 260.80,588.89 261.15,588.75 261.50,588.65 261.85,588.54 262.20,588.43 262.55,588.33 262.90,588.22 263.25,588.45 263.60,588.67 263.95,588.89 264.30,589.12 264.65,589.34 265.00,589.18 265.35,588.91 265.70,588.64 266.05,588.37 266.40,586.77 266.75,583.69 267.10,580.86 267.45,580.70 267.80,580.54 268.15,580.37 268.50,579.64 268.85,578.37 269.20,577.09 269.55,576.06 269.90,576.24 270.25,576.41 270.60,576.59 270.95,576.44 271.30,575.69 271.65,574.94 272.00,574.20 272.35,574.38 272.70,574.55 273.05,574.73 273.40,575.14 273.75,575.66 274.10,576.19 274.45,576.72 274.80,577.24 275.15,577.69 275.50,578.04 275.85,578.39 276.20,578.96 276.55,579.66 276.90,580.36 277.25,581.34 277.60,582.39 277.95,583.44 278.30,584.49 278.65,585.54 279.00,586.97 279.35,590.47 279.70,593.97 280.05,595.21 280.40,596.21 280.75,590.69 281.10,584.69 281.45,583.19 281.80,581.88 282.15,581.49 282.50,581.49 282.85,581.49 283.20,581.80 283.55,582.15 283.90,582.43 284.25,581.73 284.60,581.03 284.95,580.41 285.30,580.06 285.65,579.71 286.00,579.52 286.35,579.52 286.70,579.52 287.05,579.95 287.40,580.65 287.75,581.35 288.10,582.89 288.45,584.64 288.80,586.39 289.15,586.76 289.50,587.11 289.85,587.35 290.20,587.00 290.55,586.65 290.90,586.06 291.25,585.01 291.60,583.96 291.95,582.54 292.30,580.79 292.65,579.65 293.00,580.15 293.35,580.71 293.70,581.41 294.05,582.11 294.40,582.31 294.75,581.96 295.10,581.61 295.45,580.56 295.80,579.16 296.15,577.76 296.50,576.65 296.85,575.60 297.20,574.55 297.55,573.50 297.90,572.45 298.25,571.59 298.60,571.41 298.95,571.24 299.30,571.62 299.65,572.84 300.00,574.07 300.35,574.59 300.70,574.59 301.05,574.59 301.40,574.32 301.75,573.97 302.10,573.62 302.45,572.94 302.80,572.24 303.15,571.67 303.50,572.02 303.85,572.37 304.20,572.29 304.55,571.24 304.90,570.19 305.25,568.80 305.60,567.05 305.95,565.30 306.30,563.78 306.65,562.38 307.00,560.98 307.35,561.08 307.70,561.43 308.05,561.80 308.40,562.85 308.75,563.90 309.10,564.80 309.45,565.15 309.80,565.50 310.15,566.27 310.50,567.67 310.85,569.07 311.20,570.27 311.55,571.32 311.90,572.37 312.25,573.95 312.60,575.70 312.95,577.45 313.30,579.53 313.65,581.63 314.00,583.82 314.35,586.62 314.70,589.42 315.05,591.46 315.40,591.81 315.75,592.16 316.10,592.16 316.45,591.81 316.80,591.46 317.15,591.35 317.50,591.35 317.85,591.35 318.20,591.35 318.55,591.35 318.90,591.37 319.25,591.72 319.60,592.07 319.95,592.18 320.30,591.48 320.65,590.78 321.00,589.80 321.35,588.40 321.70,587.00 322.05,586.01 322.40,585.31 322.75,584.61 323.10,584.18 323.45,583.83 323.80,583.48 324.15,582.91 324.50,582.32 324.85,581.74 325.20,580.89 325.55,579.84 325.90,578.79 326.25,578.27 326.60,577.92 326.95,577.57 327.30,576.56 327.65,575.51 328.00,574.63 328.35,574.98 328.70,575.33 329.05,575.78 329.40,576.48 329.75,577.18 330.10,577.04 330.45,575.99 330.80,574.94 331.15,574.12 331.50,573.42 331.85,572.72 332.20,572.32 332.55,571.97 332.90,571.64 333.25,571.99 333.60,572.34 333.95,572.61 334.30,572.61 334.65,572.61 335.00,572.89 335.35,573.59 335.70,574.29 336.05,574.38 336.40,574.03 336.75,573.68 337.10,573.87 337.45,574.22 337.80,574.57 338.15,573.60 338.50,572.55 338.85,571.58 339.20,571.23 339.55,570.88 339.90,570.96 340.25,572.01 340.60,573.06 340.95,574.28 341.30,575.68 341.65,577.08 342.00,578.01 342.35,578.71 342.70,579.41 343.05,579.82 343.40,580.17 343.75,580.53 344.10,581.23 344.45,581.93 344.80,582.63 345.15,583.33 345.50,584.03 345.85,584.73 346.20,585.43 346.55,586.13 346.90,586.83 347.25,587.53 347.60,588.23 347.95,589.46 348.30,590.86 348.65,592.26 349.00,594.99 349.35,597.79 349.70,600.05 350.05,598.65 350.40,597.25 350.75,596.06 351.10,595.36 351.45,594.66 351.80,594.05 352.15,593.53 352.50,593.00 352.85,592.48 353.20,591.95 353.55,591.43 353.90,591.05 354.25,590.70 354.60,590.35 354.95,590.00 355.30,589.65 355.65,589.30 356.00,588.95 356.35,588.60 356.70,588.11 357.05,587.41 357.40,586.71 357.75,585.80 358.10,584.75 358.45,583.70 358.80,582.38 359.15,580.98 359.50,579.58 359.85,578.18 360.20,576.78 360.55,575.52 360.90,575.17 361.25,574.82 361.60,574.36 361.95,573.66 362.30,572.96 362.65,571.91 363.00,570.51 363.35,569.11 363.70,568.07 364.05,567.20 364.40,567.12 364.75,568.12 365.10,568.99 365.45,569.69 365.80,570.39 366.15,570.86 366.50,571.21 366.85,571.56 367.20,570.81 367.55,569.81 367.90,548.95 368.25,549.65 368.60,550.35 368.95,550.85 369.30,550.50 369.65,550.15 370.00,549.93 370.35,549.93 370.70,549.93 371.05,550.51 371.40,551.56 371.75,552.61 372.10,553.15 372.45,553.50 372.80,553.85 373.15,554.20 373.50,554.55 373.85,554.83 374.20,554.54 374.55,554.25 374.90,553.96 375.25,553.88 375.60,553.88 375.95,564.34 376.30,579.81 376.65,580.68 377.00,581.63 377.35,583.38 377.70,585.13 378.05,587.22 378.40,590.28 378.75,593.29 379.10,588.79 379.45,584.28 379.80,579.38 380.15,576.89 380.50,575.84 380.85,574.79 381.20,574.16 381.55,573.64 381.90,573.11 382.25,572.76 382.60,572.41 382.95,572.03 383.30,571.50 383.65,570.98 384.00,570.52 384.35,570.17 384.70,569.82 385.05,569.84 385.40,570.19 385.75,570.54 386.10,570.89 386.45,571.24 386.80,571.59 387.15,572.26 387.50,572.96 387.85,573.63 388.20,573.98 388.55,574.33 388.90,574.49 389.25,574.14 389.60,573.79 389.95,573.60 390.30,573.60 390.65,573.60 391.00,573.82 391.35,574.17 391.70,574.52 392.05,575.16 392.40,575.86 392.75,576.56 393.10,576.91 393.45,577.26 393.80,577.61 394.15,577.96 394.50,578.31 394.85,578.66 395.20,579.01 395.55,579.36 395.90,582.21 396.25,587.17 396.60,592.12 396.95,596.25 397.30,596.03 397.65,595.81 398.00,595.47 398.35,595.12 398.70,594.77 399.05,594.42 399.40,594.07 399.75,593.72 400.10,593.37 400.45,593.02 400.80,592.67 401.15,592.32 401.50,591.97 401.85,591.73 402.20,591.56 402.55,591.38 402.90,591.21 403.25,591.03 403.60,590.86 403.95,590.68 404.30,590.51 404.65,590.30 405.00,589.95 405.35,589.60 405.70,589.25 406.05,588.90 406.40,588.55 406.75,588.20 407.10,587.85 407.45,587.50 407.80,587.41 408.15,587.41 408.50,587.41 408.85,587.09 409.20,586.74 409.55,586.39 409.90,586.04 410.25,585.69 410.60,585.34 410.95,584.99 411.30,584.64 411.65,584.61 412.00,584.96 412.35,585.31 412.70,585.66 413.05,586.01 413.40,586.36 413.75,586.71 414.10,587.06 414.45,587.38 414.80,582.83 415.15,578.28 415.50,574.49 415.85,573.96 416.20,573.44 416.55,573.56 416.90,574.79 417.25,576.01 417.60,576.95 417.95,577.65 418.30,578.35 418.65,579.05 419.00,579.75 419.35,580.45 419.70,580.82 420.05,581.17 420.40,581.49 420.75,581.49 421.10,581.49 421.45,581.79 421.80,582.84 422.15,583.89 422.50,585.59 422.85,588.04 423.20,590.49 423.55,592.03 423.90,593.08 424.25,594.13 424.60,593.48 424.95,592.48 425.30,592.04 425.65,591.69 426.00,591.34 426.35,590.99 426.70,590.64 427.05,590.44 427.40,590.79 427.75,591.14 428.10,591.49 428.45,591.84 428.80,592.19 429.15,591.93 429.50,591.23 429.85,590.53 430.20,590.63 430.55,590.98 430.90,591.33 431.25,592.02 431.60,592.72 431.95,593.37 432.30,593.72 432.65,594.07 433.00,594.42 433.35,594.77 433.70,595.12 434.05,595.12 434.40,594.77 434.75,594.42 435.10,594.07 435.45,593.72 435.80,593.37 436.15,593.47 436.50,593.65 436.85,593.82 437.20,594.00 437.55,594.17 437.90,594.47 438.25,595.17 438.60,595.87 438.95,596.43 439.30,596.78 439.65,597.13 440.00,596.85 440.35,596.15 440.70,595.45 441.05,595.02 441.40,594.67 441.75,594.32 442.10,593.97 442.45,593.62 442.80,593.35 443.15,593.52 443.50,593.70 443.85,593.76 444.20,593.59 444.55,593.41 444.90,593.32 445.25,593.32 445.60,593.32 445.95,593.44 446.30,593.62 446.65,593.79 447.00,593.66 447.35,593.49 447.70,593.31 448.05,593.14 448.40,592.96 448.75,592.87 449.10,593.05 449.45,593.22 449.80,593.61 450.15,594.31 450.50,595.01 450.85,594.88 451.20,594.18 451.55,593.48 451.90,592.78 452.25,592.08 452.60,591.38 452.95,591.01 453.30,590.66 453.65,590.26 454.00,589.56 454.35,588.86 454.70,588.16 455.05,587.46 455.40,586.76 455.75,586.42 456.10,586.42 456.45,586.42 456.80,585.94 457.15,585.24 457.50,584.54 457.85,583.53 458.20,582.48 458.55,581.39 458.90,579.64 459.25,577.89 459.60,576.47 459.95,576.12 460.30,575.77 460.65,575.72 461.00,576.07 461.35,576.42 461.70,576.77 462.05,577.12 462.40,577.47 462.75,577.27 463.10,576.92 463.45,576.57 463.80,577.24 464.15,577.94 464.50,578.58 464.85,578.93 465.20,579.28 465.55,579.63 465.90,579.98 466.25,580.33 466.60,580.86 466.95,581.56 467.30,582.26 467.65,582.96 468.00,583.66 468.35,584.36 468.70,584.76 469.05,585.11 469.40,585.54 469.75,587.20 470.10,588.49 470.45,588.84 470.80,589.19 471.15,589.54 471.50,589.89 471.85,590.24 472.20,590.82 472.55,591.52 472.90,592.22 473.25,592.92 473.60,593.62 473.95,594.32 474.30,595.02 474.65,595.72 475.00,596.42 475.35,597.12 475.70,597.82 476.05,598.39 476.40,598.74 476.75,599.09 477.10,599.34 477.45,599.51 477.80,599.69 478.15,599.86 478.50,600.04 478.85,600.21 479.20,600.39 479.55,600.56 479.90,600.74 480.25,600.91 480.60,601.09 480.95,601.26 481.30,601.44 481.65,601.61 482.00,601.71 482.35,601.71 482.70,601.71 483.05,601.59 483.40,601.42 483.75,601.24 484.10,600.48 484.45,599.60 484.80,598.72 485.15,597.50 485.50,596.27 485.85,595.08 486.20,594.03 486.55,592.98 486.90,592.20 487.25,591.85 487.60,591.50 487.95,591.35 488.30,591.35 488.65,591.35 489.00,591.09 489.35,590.74 489.70,590.39 490.05,589.39 490.40,588.34 490.75,587.21 491.10,585.46 491.45,583.71 491.80,582.27 492.15,581.57 492.50,580.87 492.85,580.67 493.20,581.02 493.55,581.37 493.90,581.72 494.25,582.07 494.60,582.42 494.95,582.77 495.30,583.12 495.65,583.44 496.00,582.74 496.35,582.04 496.70,581.34 497.05,580.64 497.40,579.94 497.75,579.45 498.10,579.27 498.45,579.10 498.80,579.52 499.15,580.40 499.50,581.27 499.85,582.28 500.20,583.33 500.55,584.38 500.90,585.76 501.25,587.16 501.60,588.39 501.95,588.39 502.30,588.39 502.65,588.50 503.00,588.85 503.35,589.20 503.70,589.38 504.05,589.38 504.40,589.38 504.75,589.15 505.10,588.80 505.45,588.45 505.80,587.20 506.15,585.80 506.50,584.39 506.85,582.64 507.20,580.89 507.55,579.48 507.90,579.30 508.25,579.13 508.60,578.95 508.95,578.78 509.30,578.60 509.65,578.33 510.00,577.98 510.35,577.63 510.70,577.28 511.05,576.93 511.40,576.58 511.75,576.39 512.10,576.22 512.45,576.13 512.80,576.66 513.15,577.18 513.50,578.08 513.85,579.83 514.20,581.58 514.55,583.16 514.90,584.56 515.25,585.96 515.60,586.19 515.95,585.84 516.30,585.49 516.65,585.58 517.00,585.76 517.35,585.93 517.70,586.11 518.05,586.28 518.40,586.50 518.75,586.85 519.10,587.20 519.45,586.40 519.80,583.90 520.15,582.01 520.50,580.96 520.85,579.91 521.20,578.86 521.55,577.81 521.90,576.76 522.25,576.28 522.60,576.81 522.95,577.33 523.30,577.86 523.65,578.38 524.00,578.91 524.35,579.17 524.70,578.82 525.05,578.47 525.40,578.12 525.75,577.77 526.10,577.42 526.45,577.26 526.80,577.73 527.15,578.20 527.50,578.66 527.85,579.13 528.20,579.75 528.55,580.45 528.90,581.15 529.25,581.85 529.60,583.10 529.95,588.00 530.30,592.90 530.65,596.98 531.00,593.48 531.35,589.98 531.70,586.66 532.05,585.96 532.40,585.26 532.75,584.56 533.10,583.86 533.45,584.07 533.80,585.12 534.15,586.17 534.50,585.02 534.85,581.52 535.20,578.02 535.55,575.99 535.90,575.76 536.25,575.52 536.60,575.29 536.95,575.06 537.30,575.03 537.65,575.03 538.00,575.03 538.35,575.03 538.70,575.03 539.05,575.03 539.40,574.89 539.75,574.71 540.10,574.54 540.45,574.36 540.80,574.19 541.15,574.01 541.50,574.15 541.85,574.38 542.20,574.62 542.55,574.85 542.90,575.41 543.25,577.16 543.60,578.91 543.95,580.60 544.30,582.00 544.65,583.40 545.00,584.27 545.35,582.17 545.70,580.07 546.05,578.05 546.40,576.65 546.75,575.25 547.10,573.93 547.45,573.46 547.80,573.00 548.15,572.53 548.50,572.06 548.85,571.72 549.20,571.49 549.55,571.26 549.90,571.02 550.25,570.79 550.60,571.02 550.95,571.25 551.30,571.48 551.65,571.72 552.00,572.15 552.35,572.85 552.70,573.55 553.05,574.25 553.40,574.95 553.75,576.58 554.10,578.33 554.45,580.08 554.80,580.34 555.15,580.34 555.50,580.34 555.85,580.34 556.20,580.55 556.55,581.25 556.90,581.95 557.25,582.65 557.60,583.35 557.95,583.70 558.30,583.93 558.65,584.17 559.00,584.40 559.35,584.68 559.70,585.15 560.05,585.62 560.40,586.08 560.75,586.55 561.10,586.40 561.45,585.94 561.80,585.47 562.15,585.00 562.50,584.78 562.85,586.65 563.20,588.52 563.55,590.38 563.90,592.25 564.25,593.86 564.60,595.26 564.95,596.66 565.30,598.06 565.65,599.44 566.00,598.74 566.35,598.04 566.70,597.34 567.05,596.64 567.40,595.94 567.75,595.24 568.10,595.38 568.45,595.57 568.80,595.76 569.15,595.95 569.50,596.13 569.85,596.32 570.20,596.51 570.55,596.70 570.90,596.89 571.25,597.08 571.60,596.73 571.95,596.03 572.30,595.33 572.65,594.63 573.00,593.77 573.35,592.72 573.70,591.67 574.05,590.62 574.40,589.98 574.75,590.45 575.10,590.91 575.45,591.38 575.80,591.85 576.15,592.31 576.50,592.78 576.85,593.01 577.20,593.24 577.55,593.48 577.90,593.71 578.25,593.94 578.60,594.18 578.95,594.21 579.30,594.19 579.65,594.17 580.00,594.14 580.35,594.49 580.70,594.84 581.05,595.19 581.40,596.56 581.75,597.96 582.10,599.36 582.45,599.53 582.80,599.62 583.15,599.70 583.50,599.79 583.85,599.88 584.20,599.97 584.55,599.98 584.90,599.98 585.25,599.98 585.60,599.98 585.95,599.98 586.30,599.98 586.65,600.05 587.00,600.14 587.35,600.22 587.70,600.31 588.05,600.40 588.40,600.49 588.75,600.68 589.10,600.91 589.45,601.15 589.80,601.38 590.15,601.54 590.50,601.36 590.85,601.19 591.20,600.94 591.55,600.31 591.90,599.68 592.25,599.05 592.60,598.42 592.95,598.01 593.30,597.73 593.65,597.45 594.00,597.17 594.35,596.89 594.70,596.61 595.05,596.33 595.40,596.07 595.75,595.81 596.10,595.55 596.45,595.28 596.80,595.02 597.15,594.72 597.50,594.37 597.85,594.02 598.20,593.67 598.55,593.32 598.90,592.97 599.25,592.50 599.60,591.87 599.95,591.24 600.30,590.61 600.65,589.98 601.00,589.00 601.35,587.95 601.70,586.90 602.05,584.41 602.40,582.03 602.75,580.63 603.10,579.23 603.45,577.96 603.80,577.03 604.15,576.10 604.50,575.16 604.85,574.23 605.20,573.72 605.55,573.37 605.90,573.02 606.25,573.39 606.60,574.09 606.95,574.79 607.30,574.11 607.65,572.71 608.00,571.31 608.35,567.95 608.70,563.40 609.05,558.85 609.40,557.81 609.75,559.21 610.10,560.61 610.45,562.40 610.80,564.50 611.15,566.60 611.50,567.97 611.85,568.67 612.20,569.37 612.55,570.07 612.90,570.77 613.25,571.47 613.60,571.21 613.95,569.81 614.30,569.89 614.65,570.06 615.00,570.24 615.35,570.57 615.70,570.92 616.05,571.27 616.40,571.62 616.75,575.07 617.10,584.03 617.45,593.00 617.80,600.90 618.15,597.08 618.50,593.27 618.85,589.06 619.20,582.50 619.55,575.94 619.90,554.75 620.25,522.17 620.60,508.00 620.95,499.75 621.30,494.50 621.65,489.25 622.00,484.17 622.35,479.21 622.70,474.25 623.05,469.50 623.40,466.00 623.75,462.50 624.10,459.00 624.45,455.25 624.80,450.00 625.15,444.75 625.50,439.92 625.85,436.12 626.20,432.33 626.55,428.54 626.90,425.00 627.25,421.82 627.60,420.60 627.95,421.83 628.30,441.00 628.65,448.50 629.00,456.00 629.35,462.13 629.70,468.25 630.05,474.25 630.40,480.20 630.75,486.15 631.10,492.63 631.45,499.19 631.80,505.00 632.15,510.25 632.50,515.50 632.85,521.84 633.20,528.63 633.55,535.41 633.90,542.19 634.25,548.59 634.60,552.75 634.95,556.91 635.30,561.06 635.65,565.22 636.00,569.17 636.35,572.96 636.70,576.75 637.05,580.60 637.40,584.80 637.75,589.00 638.10,594.57 638.45,603.55 638.80,607.40 639.15,607.40 639.50,607.40 639.50,607.40" fill="#788fc1"/>
<polygon points="52.90,607.40 52.90,607.40 53.25,605.29 53.60,602.84 53.95,600.97 54.30,599.57 54.65,598.33 55.00,597.86 55.35,597.39 55.70,596.93 56.05,596.32 56.40,595.62 56.75,594.92 57.10,594.22 57.45,593.29 57.80,592.35 58.15,591.42 58.50,590.59 58.85,589.89 59.20,589.19 59.55,588.49 59.90,587.79 60.25,587.09 60.60,586.39 60.95,585.69 61.30,585.11 61.65,585.81 62.00,586.51 62.35,587.21 62.70,587.91 63.05,588.17 63.40,587.47 63.75,586.77 64.10,586.07 64.45,585.37 64.80,585.43 65.15,586.13 65.50,586.78 65.85,587.13 66.20,587.48 66.55,587.83 66.90,588.18 67.25,588.25 67.60,587.90 67.95,587.55 68.30,587.08 68.65,586.62 69.00,586.15 69.35,585.68 69.70,585.22 70.05,584.75 70.40,584.28 70.75,584.51 71.10,584.86 71.45,585.38 71.80,586.08 72.15,586.78 72.50,587.48 72.85,588.18 73.20,588.88 73.55,589.58 73.90,590.28 74.25,590.98 74.60,591.68 74.95,592.38 75.30,593.08 75.65,593.59 76.00,593.94 76.35,594.29 76.70,594.64 77.05,594.99 77.40,595.61 77.75,596.31 78.10,596.60 78.45,596.25 78.80,595.89 79.15,594.14 79.50,592.39 79.85,590.42 80.20,588.32 80.55,585.98 80.90,582.83 81.25,580.51 81.60,580.16 81.95,579.93 82.30,579.75 82.65,579.67 83.00,579.85 83.35,580.02 83.70,579.63 84.05,579.16 84.40,578.69 84.75,578.26 85.10,577.91 85.45,577.56 85.80,577.75 86.15,577.99 86.50,578.22 86.85,578.54 87.20,579.00 87.55,579.47 87.90,579.94 88.25,581.12 88.60,582.52 88.95,583.92 89.30,585.32 89.65,586.72 90.00,587.65 90.35,588.59 90.70,589.52 91.05,590.26 91.40,590.72 91.75,591.19 92.10,591.66 92.45,592.02 92.80,592.37 93.15,592.72 93.50,593.03 93.85,593.20 94.20,593.38 94.55,593.65 94.90,593.94 95.25,594.11 95.60,594.30 95.95,594.54 96.30,594.77 96.65,595.00 97.00,595.15 97.35,595.27 97.70,595.39 98.05,595.45 98.40,595.23 98.75,595.01 99.10,594.79 99.45,594.58 99.80,594.36 100.15,593.93 100.50,593.23 100.85,592.52 101.20,591.47 101.55,590.42 101.90,589.60 102.25,588.90 102.60,588.26 102.95,587.79 103.30,587.33 103.65,586.86 104.00,586.56 104.35,586.32 104.70,586.09 105.05,585.83 105.40,585.36 105.75,584.90 106.10,584.43 106.45,584.09 106.80,583.86 107.15,583.62 107.50,583.39 107.85,583.83 108.20,584.30 108.55,584.76 108.90,585.14 109.25,585.37 109.60,585.61 109.95,585.84 110.30,586.07 110.65,586.31 111.00,586.54 111.35,586.61 111.70,586.14 112.05,585.68 112.40,585.21 112.75,585.20 113.10,585.44 113.45,585.67 113.80,585.90 114.15,586.14 114.50,586.37 114.85,586.60 115.20,586.72 115.55,586.72 115.90,586.72 116.25,586.72 116.60,586.50 116.95,586.27 117.30,586.04 117.65,585.72 118.00,585.26 118.35,584.79 118.70,584.32 119.05,583.68 119.40,582.98 119.75,582.28 120.10,581.62 120.45,581.16 120.80,580.69 121.15,580.22 121.50,579.18 121.85,577.78 122.20,576.60 122.55,576.13 122.90,575.66 123.25,575.20 123.60,574.88 123.95,574.65 124.30,574.41 124.65,574.18 125.00,573.95 125.35,573.71 125.70,573.48 126.05,573.48 126.40,573.71 126.75,573.95 127.10,574.18 127.45,574.41 127.80,574.65 128.15,574.88 128.50,575.15 128.85,575.50 129.20,575.85 129.55,579.21 129.90,581.11 130.25,582.51 130.60,583.12 130.95,582.42 131.30,581.72 131.65,581.02 132.00,582.00 132.35,582.76 132.70,583.11 133.05,583.41 133.40,583.52 133.75,583.64 134.10,583.76 134.45,583.87 134.80,583.99 135.15,584.11 135.50,584.21 135.85,584.09 136.20,583.97 136.55,583.86 136.90,583.74 137.25,583.62 137.60,583.51 137.95,583.39 138.30,583.54 138.65,583.72 139.00,583.98 139.35,584.33 139.70,584.66 140.05,585.80 140.40,586.72 140.75,587.59 141.10,588.04 141.45,588.15 141.80,588.27 142.15,588.39 142.50,588.74 142.85,589.09 143.20,589.44 143.55,589.79 143.90,590.21 144.25,590.91 144.60,591.61 144.95,592.31 145.30,593.01 145.65,593.55 146.00,593.90 146.35,594.25 146.70,594.60 147.05,594.95 147.40,595.07 147.75,595.07 148.10,595.23 148.45,595.79 148.80,596.35 149.15,596.90 149.50,597.46 149.85,598.02 150.20,598.55 150.55,599.08 150.90,599.60 151.25,599.34 151.60,598.81 151.95,598.29 152.30,598.42 152.65,598.59 153.00,598.77 153.35,598.94 153.70,599.12 154.05,599.35 154.40,599.70 154.75,600.05 155.10,600.40 155.45,600.75 155.80,601.10 156.15,600.28 156.50,598.88 156.85,597.48 157.20,595.49 157.55,593.39 157.90,591.34 158.25,591.11 158.60,590.88 158.95,590.64 159.30,590.41 159.65,589.99 160.00,589.52 160.35,589.06 160.70,588.59 161.05,588.39 161.40,588.39 161.75,588.39 162.10,588.39 162.45,588.39 162.80,588.39 163.15,588.39 163.50,588.39 163.85,588.48 164.20,589.18 164.55,589.88 164.90,590.69 165.25,591.74 165.60,592.79 165.95,593.49 166.30,593.84 166.65,594.19 167.00,594.54 167.35,594.89 167.70,595.24 168.05,595.00 168.40,594.65 168.75,594.33 169.10,595.03 169.45,595.73 169.80,596.36 170.15,596.71 170.50,597.06 170.85,596.99 171.20,596.29 171.55,595.59 171.90,595.16 172.25,594.93 172.60,594.69 172.95,594.46 173.30,594.39 173.65,594.63 174.00,594.86 174.35,595.09 174.70,595.27 175.05,595.03 175.40,594.80 175.75,594.57 176.10,594.33 176.45,594.10 176.80,593.87 177.15,593.63 177.50,593.40 177.85,593.32 178.20,593.32 178.55,593.32 178.90,593.32 179.25,593.22 179.60,592.99 179.95,592.75 180.30,592.52 180.65,592.42 181.00,592.77 181.35,593.12 181.70,593.23 182.05,593.00 182.40,592.76 182.75,592.53 183.10,592.27 183.45,591.92 183.80,591.57 184.15,591.48 184.50,591.83 184.85,592.18 185.20,592.53 185.55,592.88 185.90,593.23 186.25,593.07 186.60,592.72 186.95,592.37 187.30,592.02 187.65,591.67 188.00,591.38 188.35,591.73 188.70,592.08 189.05,592.24 189.40,591.89 189.75,591.54 190.10,594.01 190.45,592.96 190.80,591.91 191.15,591.51 191.50,591.86 191.85,592.21 192.20,592.34 192.55,592.34 192.90,592.34 193.25,592.63 193.60,592.98 193.95,593.32 194.30,592.97 194.65,592.62 195.00,592.27 195.35,591.92 195.70,591.57 196.05,591.48 196.40,591.83 196.75,592.18 197.10,591.94 197.45,591.24 197.80,590.54 198.15,589.84 198.50,589.14 198.85,588.44 199.20,588.07 199.55,587.72 199.90,587.37 200.25,587.02 200.60,586.67 200.95,586.32 201.30,585.97 201.65,585.62 202.00,585.10 202.35,584.40 202.70,583.70 203.05,583.00 203.40,582.30 203.75,581.60 204.10,581.49 204.45,581.49 204.80,581.50 205.15,582.20 205.50,582.90 205.85,583.67 206.20,584.72 206.55,585.77 206.90,586.15 207.25,585.45 207.60,584.75 207.95,584.84 208.30,585.54 208.65,586.24 209.00,586.94 209.35,587.64 209.70,588.34 210.05,588.07 210.40,587.72 210.75,587.49 211.10,588.19 211.45,588.89 211.80,589.59 212.15,590.29 212.50,590.99 212.85,590.85 213.20,589.80 213.55,588.75 213.90,588.16 214.25,587.81 214.60,587.46 214.95,588.00 215.30,588.70 215.65,589.40 216.00,590.10 216.35,590.80 216.70,591.28 217.05,590.93 217.40,590.58 217.75,590.36 218.10,590.36 218.45,590.36 218.80,589.96 219.15,589.26 219.50,588.56 219.85,588.13 220.20,587.78 220.55,587.43 220.90,587.73 221.25,588.08 221.60,588.43 221.95,588.78 222.30,589.13 222.65,589.48 223.00,589.83 223.35,590.18 223.70,590.53 224.05,590.88 224.40,591.23 224.75,590.73 225.10,589.99 225.45,589.76 225.80,589.53 226.15,589.29 226.50,589.88 226.85,590.82 227.20,591.75 227.55,592.93 227.90,595.73 228.25,598.53 228.60,597.41 228.95,594.96 229.30,592.89 229.65,591.49 230.00,590.09 230.35,589.60 230.70,589.14 231.05,588.67 231.40,588.20 231.75,587.74 232.10,587.27 232.45,586.80 232.80,586.14 233.15,585.44 233.50,583.68 233.85,580.53 234.20,577.57 234.55,578.27 234.90,578.97 235.25,578.97 235.60,578.62 235.95,578.77 236.30,580.17 236.65,581.57 237.00,581.08 237.35,580.38 237.70,579.56 238.05,578.63 238.40,577.70 238.75,576.76 239.10,577.36 239.45,578.06 239.80,578.76 240.15,579.46 240.50,580.16 240.85,580.86 241.20,581.56 241.55,582.26 241.90,582.96 242.25,583.24 242.60,584.99 242.95,586.72 243.30,587.19 243.65,587.66 244.00,588.12 244.35,588.19 244.70,587.72 245.05,587.25 245.40,586.79 245.75,587.32 246.10,588.02 246.45,588.88 246.80,589.93 247.15,590.87 247.50,590.64 247.85,590.41 248.20,590.17 248.55,590.15 248.90,590.32 249.25,590.50 249.60,590.67 249.95,590.85 250.30,590.89 250.65,590.89 251.00,590.89 251.35,591.12 251.70,592.52 252.05,593.92 252.40,594.77 252.75,595.47 253.10,595.63 253.45,594.93 253.80,594.23 254.15,593.76 254.50,593.30 254.85,592.83 255.20,592.46 255.55,592.23 255.90,592.00 256.25,591.76 256.60,591.93 256.95,592.16 257.30,592.39 257.65,592.47 258.00,592.24 258.35,592.65 258.70,593.17 259.05,594.30 259.40,595.42 259.75,596.55 260.10,597.93 260.45,599.35 260.80,600.78 261.15,601.63 261.50,601.90 261.85,602.18 262.20,602.45 262.55,602.73 262.90,603.00 263.25,603.00 263.60,603.00 263.95,603.00 264.30,603.00 264.65,603.00 265.00,602.59 265.35,602.06 265.70,601.52 266.05,600.99 266.40,600.46 266.75,598.78 267.10,596.72 267.45,594.67 267.80,592.81 268.15,591.86 268.50,590.91 268.85,589.96 269.20,589.01 269.55,588.18 269.90,587.96 270.25,587.73 270.60,587.50 270.95,587.27 271.30,587.04 271.65,587.05 272.00,587.17 272.35,587.28 272.70,587.40 273.05,587.52 273.40,587.79 273.75,588.14 274.10,588.48 274.45,588.83 274.80,589.18 275.15,589.68 275.50,590.38 275.85,591.08 276.20,591.56 276.55,591.91 276.90,592.26 277.25,592.61 277.60,592.96 277.95,593.31 278.30,593.66 278.65,594.01 279.00,594.38 279.35,594.82 279.70,595.25 280.05,595.75 280.40,596.25 280.75,590.69 281.10,584.69 281.45,583.19 281.80,581.95 282.15,581.68 282.50,581.49 282.85,581.49 283.20,581.80 283.55,582.15 283.90,582.43 284.25,581.73 284.60,581.03 284.95,580.41 285.30,580.06 285.65,579.71 286.00,579.52 286.35,579.52 286.70,579.52 287.05,579.95 287.40,580.65 287.75,581.35 288.10,583.73 288.45,586.80 288.80,590.30 289.15,592.08 289.50,593.83 289.85,595.24 290.20,594.89 290.55,594.54 290.90,594.19 291.25,593.84 291.60,593.49 291.95,592.86 292.30,591.99 292.65,591.49 293.00,591.99 293.35,592.44 293.70,592.79 294.05,593.14 294.40,592.99 294.75,592.29 295.10,591.59 295.45,591.12 295.80,590.77 296.15,590.42 296.50,590.07 296.85,589.72 297.20,589.37 297.55,589.02 297.90,588.67 298.25,588.39 298.60,588.39 298.95,588.39 299.30,588.53 299.65,588.88 300.00,589.23 300.35,588.97 300.70,588.27 301.05,587.57 301.40,587.14 301.75,586.79 302.10,586.44 302.45,585.43 302.80,584.38 303.15,583.37 303.50,582.67 303.85,581.97 304.20,581.27 304.55,580.57 304.90,579.87 305.25,579.17 305.60,578.47 305.95,577.77 306.30,577.31 306.65,576.96 307.00,576.61 307.35,576.86 307.70,577.21 308.05,577.57 308.40,578.27 308.75,578.97 309.10,579.67 309.45,580.37 309.80,581.07 310.15,581.77 310.50,582.47 310.85,583.17 311.20,583.87 311.55,584.57 311.90,585.27 312.25,586.24 312.60,587.29 312.95,588.34 313.30,589.72 313.65,591.12 314.00,592.52 314.35,593.92 314.70,595.32 315.05,596.17 315.40,595.82 315.75,595.47 316.10,594.95 316.45,594.25 316.80,593.55 317.15,593.56 317.50,593.91 317.85,594.26 318.20,594.61 318.55,594.96 318.90,595.28 319.25,594.93 319.60,594.58 319.95,594.23 320.30,593.88 320.65,593.53 321.00,593.04 321.35,592.34 321.70,591.64 322.05,591.15 322.40,590.80 322.75,590.45 323.10,590.10 323.45,589.75 323.80,589.40 324.15,588.27 324.50,587.10 324.85,585.93 325.20,585.23 325.55,584.88 325.90,584.53 326.25,584.18 326.60,583.83 326.95,583.48 327.30,583.13 327.65,582.78 328.00,582.52 328.35,582.87 328.70,583.22 329.05,583.67 329.40,584.37 329.75,585.07 330.10,585.94 330.45,586.99 330.80,588.04 331.15,588.86 331.50,589.56 331.85,590.26 332.20,590.96 332.55,591.66 332.90,592.35 333.25,592.70 333.60,593.05 333.95,593.17 334.30,592.47 334.65,591.77 335.00,591.07 335.35,590.37 335.70,589.67 336.05,588.97 336.40,588.27 336.75,587.57 337.10,586.87 337.45,586.17 337.80,585.47 338.15,585.10 338.50,584.75 338.85,584.49 339.20,584.84 339.55,585.19 339.90,585.54 340.25,585.89 340.60,586.24 340.95,586.59 341.30,586.94 341.65,587.29 342.00,587.88 342.35,588.58 342.70,589.28 343.05,589.98 343.40,590.68 343.75,591.38 344.10,592.08 344.45,592.78 344.80,593.48 345.15,594.18 345.50,594.88 345.85,595.58 346.20,596.28 346.55,596.98 346.90,597.68 347.25,598.38 347.60,599.08 347.95,599.78 348.30,600.48 348.65,601.18 349.00,600.88 349.35,600.53 349.70,600.05 350.05,598.65 350.40,597.25 350.75,596.06 351.10,595.36 351.45,594.66 351.80,594.05 352.15,593.53 352.50,593.00 352.85,592.48 353.20,591.95 353.55,591.43 353.90,591.05 354.25,590.70 354.60,590.35 354.95,590.00 355.30,589.65 355.65,589.30 356.00,588.95 356.35,588.60 356.70,588.11 357.05,587.41 357.40,586.71 357.75,585.80 358.10,586.89 358.45,588.11 358.80,589.47 359.15,590.87 359.50,592.27 359.85,593.34 360.20,594.39 360.55,595.34 360.90,595.69 361.25,596.04 361.60,596.17 361.95,595.82 362.30,595.47 362.65,595.12 363.00,594.77 363.35,594.42 363.70,594.31 364.05,594.31 364.40,594.31 364.75,594.01 365.10,593.66 365.45,593.31 365.80,592.96 366.15,592.61 366.50,592.18 366.85,591.48 367.20,590.78 367.55,584.21 367.90,569.21 368.25,560.59 368.60,560.15 368.95,559.73 369.30,559.38 369.65,559.03 370.00,558.93 370.35,559.28 370.70,559.63 371.05,559.98 371.40,560.33 371.75,560.68 372.10,561.03 372.45,561.38 372.80,561.73 373.15,562.08 373.50,562.43 373.85,563.42 374.20,570.42 374.55,577.42 374.90,584.42 375.25,586.92 375.60,587.62 375.95,588.32 376.30,589.33 376.65,590.38 377.00,591.38 377.35,591.73 377.70,592.08 378.05,592.34 378.40,592.34 378.75,593.29 379.10,590.94 379.45,587.79 379.80,584.64 380.15,583.02 380.50,582.32 380.85,581.62 381.20,581.21 381.55,580.86 381.90,580.51 382.25,579.46 382.60,578.41 382.95,577.36 383.30,576.31 383.65,575.26 384.00,574.34 384.35,573.64 384.70,572.94 385.05,572.24 385.40,571.54 385.75,570.84 386.10,570.89 386.45,571.24 386.80,571.59 387.15,572.26 387.50,572.96 387.85,573.63 388.20,573.98 388.55,574.33 388.90,574.49 389.25,574.14 389.60,573.79 389.95,573.60 390.30,573.60 390.65,573.60 391.00,573.82 391.35,574.17 391.70,574.52 392.05,575.16 392.40,575.86 392.75,576.56 393.10,576.91 393.45,577.26 393.80,577.61 394.15,577.96 394.50,578.31 394.85,578.66 395.20,579.01 395.55,579.36 395.90,582.21 396.25,587.17 396.60,592.12 396.95,596.25 397.30,596.03 397.65,595.81 398.00,595.47 398.35,595.12 398.70,594.77 399.05,594.42 399.40,594.07 399.75,593.72 400.10,593.37 400.45,593.02 400.80,592.67 401.15,592.32 401.50,591.97 401.85,591.73 402.20,591.56 402.55,591.38 402.90,591.21 403.25,591.03 403.60,590.86 403.95,590.68 404.30,590.51 404.65,590.30 405.00,589.95 405.35,589.60 405.70,589.51 406.05,589.86 406.40,590.21 406.75,590.17 407.10,589.82 407.45,589.47 407.80,589.12 408.15,588.77 408.50,588.42 408.85,587.75 409.20,587.05 409.55,586.39 409.90,586.04 410.25,585.69 410.60,585.34 410.95,584.99 411.30,584.64 411.65,584.61 412.00,584.96 412.35,585.31 412.70,585.66 413.05,586.01 413.40,586.36 413.75,586.71 414.10,587.06 414.45,587.38 414.80,585.72 415.15,585.02 415.50,584.58 415.85,585.28 416.20,585.98 416.55,586.94 416.90,588.34 417.25,589.74 417.60,591.14 417.95,592.54 418.30,593.94 418.65,594.82 419.00,595.52 419.35,596.22 419.70,596.60 420.05,596.95 420.40,597.30 420.75,597.65 421.10,598.00 421.45,598.35 421.80,598.70 422.15,599.05 422.50,599.40 422.85,599.75 423.20,600.10 423.55,600.45 423.90,600.80 424.25,601.15 424.60,602.04 424.95,603.04 425.30,602.89 425.65,602.54 426.00,602.19 426.35,601.84 426.70,601.49 427.05,601.14 427.40,600.79 427.75,600.44 428.10,600.09 428.45,599.74 428.80,599.39 429.15,599.04 429.50,598.69 429.85,598.34 430.20,598.52 430.55,598.87 430.90,599.22 431.25,599.57 431.60,599.92 431.95,600.27 432.30,600.62 432.65,600.97 433.00,601.32 433.35,601.67 433.70,602.02 434.05,602.11 434.40,601.94 434.75,601.76 435.10,601.59 435.45,601.41 435.80,601.24 436.15,601.51 436.50,601.86 436.85,602.19 437.20,602.02 437.55,601.84 437.90,601.75 438.25,601.92 438.60,602.10 438.95,602.27 439.30,602.45 439.65,602.62 440.00,602.17 440.35,601.30 440.70,600.42 441.05,598.60 441.40,596.50 441.75,594.40 442.10,594.31 442.45,594.31 442.80,594.36 443.15,594.71 443.50,595.06 443.85,595.41 444.20,595.76 444.55,596.11 444.90,596.46 445.25,596.81 445.60,597.16 445.95,597.03 446.30,596.68 446.65,596.33 447.00,596.59 447.35,596.94 447.70,597.29 448.05,597.64 448.40,597.99 448.75,598.42 449.10,599.12 449.45,599.82 449.80,600.08 450.15,599.73 450.50,599.38 450.85,599.03 451.20,598.68 451.55,598.33 451.90,597.98 452.25,597.63 452.60,597.28 452.95,596.93 453.30,596.58 453.65,596.23 454.00,595.88 454.35,595.53 454.70,595.18 455.05,594.83 455.40,594.48 455.75,594.13 456.10,593.78 456.45,593.43 456.80,593.08 457.15,592.73 457.50,592.38 457.85,592.03 458.20,591.68 458.55,591.33 458.90,590.98 459.25,590.63 459.60,590.28 459.95,589.93 460.30,589.58 460.65,589.23 461.00,588.88 461.35,588.53 461.70,588.18 462.05,587.83 462.40,587.48 462.75,587.13 463.10,586.78 463.45,586.43 463.80,586.08 464.15,585.73 464.50,585.43 464.85,585.43 465.20,585.43 465.55,585.32 465.90,584.97 466.25,584.62 466.60,584.63 466.95,584.98 467.30,585.33 467.65,585.19 468.00,584.84 468.35,584.49 468.70,584.76 469.05,585.11 469.40,585.54 469.75,587.20 470.10,588.49 470.45,588.84 470.80,589.19 471.15,589.54 471.50,589.89 471.85,590.24 472.20,590.82 472.55,591.52 472.90,592.22 473.25,592.92 473.60,593.62 473.95,594.32 474.30,595.02 474.65,595.72 475.00,596.42 475.35,597.12 475.70,597.82 476.05,598.39 476.40,598.74 476.75,599.09 477.10,599.34 477.45,599.51 477.80,599.69 478.15,599.86 478.50,600.04 478.85,600.21 479.20,600.39 479.55,600.56 479.90,600.74 480.25,600.91 480.60,601.09 480.95,601.26 481.30,601.44 481.65,601.61 482.00,601.71 482.35,601.71 482.70,601.71 483.05,601.59 483.40,601.42 483.75,601.24 484.10,600.92 484.45,600.57 484.80,600.22 485.15,599.87 485.50,599.52 485.85,599.17 486.20,598.82 486.55,598.47 486.90,597.99 487.25,597.29 487.60,596.59 487.95,595.89 488.30,595.19 488.65,594.49 489.00,593.52 489.35,592.47 489.70,591.42 490.05,590.70 490.40,590.00 490.75,589.30 491.10,588.60 491.45,587.90 491.80,587.41 492.15,587.41 492.50,587.41 492.85,587.57 493.20,587.92 493.55,588.27 493.90,588.86 494.25,589.56 494.60,590.26 494.95,590.96 495.30,591.66 495.65,592.36 496.00,593.06 496.35,593.76 496.70,594.46 497.05,595.16 497.40,595.86 497.75,596.56 498.10,597.26 498.45,597.96 498.80,598.66 499.15,599.36 499.50,600.06 499.85,600.49 500.20,600.84 500.55,601.19 500.90,601.21 501.25,601.21 501.60,601.19 501.95,601.02 502.30,600.84 502.65,600.67 503.00,600.49 503.35,600.32 503.70,600.06 504.05,599.71 504.40,599.36 504.75,598.77 505.10,598.07 505.45,597.37 505.80,596.97 506.15,596.62 506.50,596.27 506.85,595.92 507.20,595.57 507.55,595.30 507.90,595.30 508.25,595.30 508.60,595.37 508.95,595.54 509.30,595.72 509.65,595.89 510.00,596.07 510.35,596.24 510.70,596.15 511.05,595.97 511.40,595.80 511.75,595.95 512.10,596.13 512.45,596.33 512.80,596.68 513.15,597.03 513.50,597.48 513.85,598.18 514.20,598.88 514.55,599.58 514.90,600.28 515.25,600.98 515.60,600.98 515.95,600.63 516.30,600.28 516.65,599.63 517.00,598.93 517.35,598.23 517.70,597.53 518.05,596.83 518.40,596.13 518.75,595.43 519.10,594.73 519.45,591.90 519.80,585.90 520.15,582.05 520.50,581.09 520.85,580.13 521.20,579.16 521.55,578.20 521.90,577.24 522.25,576.75 522.60,577.10 522.95,577.45 523.30,577.86 523.65,578.38 524.00,578.91 524.35,579.17 524.70,578.82 525.05,578.55 525.40,578.46 525.75,578.37 526.10,578.28 526.45,578.38 526.80,579.08 527.15,579.78 527.50,580.48 527.85,581.18 528.20,582.20 528.55,583.36 528.90,584.53 529.25,585.70 529.60,587.17 529.95,590.67 530.30,594.17 530.65,597.16 531.00,595.53 531.35,593.90 531.70,592.26 532.05,590.63 532.40,589.13 532.75,587.73 533.10,586.33 533.45,584.93 533.80,585.12 534.15,586.17 534.50,585.02 534.85,581.52 535.20,578.02 535.55,575.99 535.90,575.76 536.25,575.52 536.60,575.29 536.95,575.06 537.30,575.03 537.65,575.03 538.00,575.03 538.35,575.03 538.70,575.03 539.05,575.03 539.40,574.89 539.75,574.71 540.10,574.54 540.45,574.36 540.80,574.19 541.15,574.01 541.50,574.15 541.85,574.38 542.20,574.62 542.55,574.85 542.90,575.41 543.25,577.16 543.60,578.91 543.95,580.60 544.30,582.00 544.65,583.40 545.00,584.27 545.35,584.08 545.70,580.81 546.05,578.05 546.40,576.65 546.75,575.25 547.10,573.93 547.45,573.46 547.80,573.00 548.15,572.53 548.50,572.06 548.85,571.72 549.20,571.49 549.55,571.26 549.90,571.02 550.25,570.79 550.60,571.02 550.95,571.25 551.30,571.48 551.65,571.72 552.00,572.15 552.35,572.85 552.70,573.55 553.05,574.25 553.40,574.95 553.75,577.83 554.10,580.98 554.45,584.13 554.80,585.18 555.15,585.88 555.50,586.58 555.85,587.28 556.20,587.98 556.55,588.68 556.90,589.38 557.25,590.04 557.60,590.56 557.95,591.09 558.30,591.61 558.65,592.14 559.00,592.66 559.35,593.15 559.70,593.50 560.05,593.85 560.40,594.20 560.75,594.55 561.10,594.90 561.45,595.25 561.80,595.60 562.15,595.95 562.50,596.30 562.85,596.65 563.20,597.00 563.55,597.35 563.90,597.70 564.25,598.05 564.60,598.40 564.95,598.75 565.30,599.10 565.65,599.45 566.00,599.62 566.35,599.80 566.70,599.97 567.05,600.15 567.40,600.32 567.75,600.50 568.10,600.20 568.45,599.88 568.80,599.55 569.15,599.23 569.50,598.90 569.85,598.58 570.20,598.25 570.55,597.93 570.90,597.61 571.25,597.28 571.60,596.73 571.95,596.03 572.30,595.33 572.65,594.63 573.00,593.77 573.35,592.72 573.70,591.67 574.05,591.63 574.40,591.86 574.75,592.10 575.10,592.33 575.45,592.56 575.80,592.80 576.15,593.03 576.50,593.26 576.85,593.50 577.20,593.73 577.55,593.96 577.90,594.20 578.25,594.37 578.60,594.54 578.95,594.70 579.30,594.87 579.65,595.04 580.00,595.20 580.35,595.99 580.70,596.78 581.05,597.56 581.40,598.35 581.75,599.14 582.10,599.93 582.45,600.04 582.80,600.11 583.15,600.18 583.50,600.25 583.85,600.32 584.20,600.39 584.55,600.46 584.90,600.53 585.25,600.60 585.60,600.67 585.95,600.74 586.30,600.81 586.65,600.88 587.00,600.95 587.35,601.02 587.70,601.09 588.05,601.16 588.40,601.23 588.75,601.30 589.10,601.37 589.45,601.44 589.80,601.51 590.15,601.54 590.50,601.36 590.85,601.19 591.20,600.94 591.55,600.31 591.90,599.68 592.25,599.05 592.60,598.42 592.95,598.01 593.30,597.73 593.65,597.45 594.00,597.17 594.35,596.89 594.70,596.61 595.05,596.33 595.40,596.07 595.75,595.81 596.10,595.55 596.45,595.28 596.80,595.02 597.15,594.72 597.50,594.37 597.85,594.02 598.20,593.67 598.55,593.32 598.90,592.97 599.25,592.50 599.60,591.87 599.95,591.24 600.30,590.61 600.65,589.98 601.00,589.00 601.35,588.75 601.70,588.52 602.05,588.29 602.40,588.05 602.75,587.82 603.10,587.68 603.45,587.56 603.80,587.45 604.15,587.33 604.50,587.32 604.85,587.67 605.20,588.02 605.55,588.37 605.90,588.72 606.25,590.04 606.60,591.79 606.95,593.54 607.30,593.83 607.65,593.37 608.00,592.90 608.35,592.43 608.70,592.04 609.05,592.28 609.40,592.51 609.75,592.74 610.10,592.98 610.45,593.21 610.80,593.44 611.15,593.68 611.50,593.91 611.85,594.14 612.20,594.32 612.55,594.49 612.90,594.67 613.25,594.84 613.60,595.02 613.95,595.19 614.30,594.76 614.65,594.30 615.00,593.83 615.35,593.36 615.70,593.35 616.05,594.05 616.40,594.75 616.75,595.69 617.10,597.06 617.45,598.42 617.80,600.90 618.15,601.70 618.50,603.49 618.85,601.86 619.20,598.86 619.55,595.86 619.90,592.86 620.25,584.92 620.60,575.00 620.95,551.37 621.30,524.75 621.65,507.62 622.00,499.67 622.35,495.58 622.70,491.50 623.05,487.65 623.40,485.20 623.75,482.75 624.10,481.40 624.45,482.80 624.80,484.20 625.15,483.95 625.50,481.50 625.85,479.05 626.20,479.00 626.55,480.75 626.90,482.50 627.25,481.50 627.60,479.40 627.95,477.30 628.30,478.50 628.65,480.25 629.00,482.00 629.35,480.60 629.70,479.20 630.05,477.92 630.40,480.20 630.75,486.15 631.10,492.63 631.45,499.19 631.80,505.00 632.15,510.25 632.50,515.50 632.85,521.84 633.20,528.63 633.55,535.41 633.90,542.19 634.25,548.59 634.60,552.75 634.95,556.91 635.30,561.06 635.65,565.22 636.00,569.17 636.35,572.96 636.70,576.75 637.05,580.60 637.40,584.80 637.75,589.00 638.10,594.57 638.45,603.55 638.80,607.40 639.15,607.40 639.50,607.40 639.50,607.40" fill="#774d7e"/>
<rect x="76.6" y="414.6" width="15" height="15" fill="#ff2414"/>
<text x="97.3" y="429.6" font-size="19.5">IP</text>
<rect x="125.6" y="414.6" width="15" height="15" fill="#788fc1"/>
<text x="146.9" y="429.6" font-size="19.5">Input</text>
<text transform="translate(78.20,551.60) scale(1.0,1.08)" font-size="14.5" font-weight="bold">P1</text>
<text transform="translate(239.50,551.60) scale(1.0,1.08)" font-size="14.5" font-weight="bold">P2</text>
<text transform="translate(466.50,551.60) scale(1.0,1.08)" font-size="14.5" font-weight="bold">P3</text>
<text transform="translate(528.60,546.20) scale(1.0,1.08)" font-size="14.5" font-weight="bold">P4 P5</text>
<text transform="translate(56.00,628.40) scale(0.97,1.1)" font-size="15.5">C</text>
<text transform="translate(75.20,628.40) scale(0.97,1.1)" font-size="15.5">pM</text>
<text transform="translate(133.60,628.40) scale(0.97,1.1)" font-size="15.5">E</text>
<text transform="translate(197.80,628.40) scale(0.97,1.1)" font-size="15.5">NS1</text>
<text transform="translate(248.90,628.40) scale(0.97,1.1)" font-size="15.5">2A</text>
<text transform="translate(279.10,628.40) scale(0.97,1.1)" font-size="15.5">2B</text>
<text transform="translate(329.60,628.40) scale(0.97,1.1)" font-size="15.5">NS3</text>
<text transform="translate(403.10,628.40) scale(0.97,1.1)" font-size="15.5">4A</text>
<text transform="translate(437.90,628.40) scale(0.97,1.1)" font-size="15.5">4B</text>
<text transform="translate(524.40,628.40) scale(0.97,1.1)" font-size="15.5">NS5</text>
<text transform="translate(609.60,628.40) scale(0.97,1.1)" font-size="15.5">3’UTR</text>
<polygon points="48.70,635.95 50.90,635.95 50.90,633.00 53.90,638.50 50.90,644.00 50.90,641.05 48.70,641.05" fill="#c00010"/>
<polygon points="54.20,635.95 67.20,635.95 67.20,632.90 73.00,638.50 67.20,644.10 67.20,641.05 54.20,641.05" fill="#1462a8"/>
<polygon points="73.40,635.95 94.00,635.95 94.00,632.90 99.80,638.50 94.00,644.10 94.00,641.05 73.40,641.05" fill="#1462a8"/>
<polygon points="100.20,635.95 177.40,635.95 177.40,632.90 183.20,638.50 177.40,644.10 177.40,641.05 100.20,641.05" fill="#1462a8"/>
<polygon points="183.60,635.95 235.80,635.95 235.80,632.90 241.60,638.50 235.80,644.10 235.80,641.05 183.60,641.05" fill="#1462a8"/>
<polygon points="242.00,635.95 273.00,635.95 273.00,632.90 278.80,638.50 273.00,644.10 273.00,641.05 242.00,641.05" fill="#1462a8"/>
<polygon points="279.20,635.95 294.80,635.95 294.80,632.90 300.60,638.50 294.80,644.10 294.80,641.05 279.20,641.05" fill="#1462a8"/>
<polygon points="301.00,635.95 397.50,635.95 397.50,632.90 403.30,638.50 397.50,644.10 397.50,641.05 301.00,641.05" fill="#1462a8"/>
<polygon points="403.70,635.95 418.50,635.95 418.50,632.90 424.30,638.50 418.50,644.10 418.50,641.05 403.70,641.05" fill="#1462a8"/>
<polygon points="425.00,635.95 427.20,635.95 427.20,632.90 427.30,638.50 427.20,644.10 427.20,641.05 425.00,641.05" fill="#1462a8"/>
<polygon points="427.80,635.95 464.60,635.95 464.60,632.90 470.40,638.50 464.60,644.10 464.60,641.05 427.80,641.05" fill="#1462a8"/>
<polygon points="470.80,635.95 614.50,635.95 614.50,632.90 620.30,638.50 614.50,644.10 614.50,641.05 470.80,641.05" fill="#1462a8"/>
<polygon points="620.90,635.95 640.20,635.95 640.20,632.90 646.00,638.50 640.20,644.10 640.20,641.05 620.90,641.05" fill="#c00000"/>
<line x1="48.7" y1="650.0" x2="646" y2="650.0" stroke="#4a4a4a" stroke-width="1.4"/>
<text x="37.6" y="657.6" font-size="12.2" font-weight="bold">1</text>
<text x="650.4" y="658.0" font-size="12.5" font-weight="bold">10723</text>
</svg>
</body></html>
